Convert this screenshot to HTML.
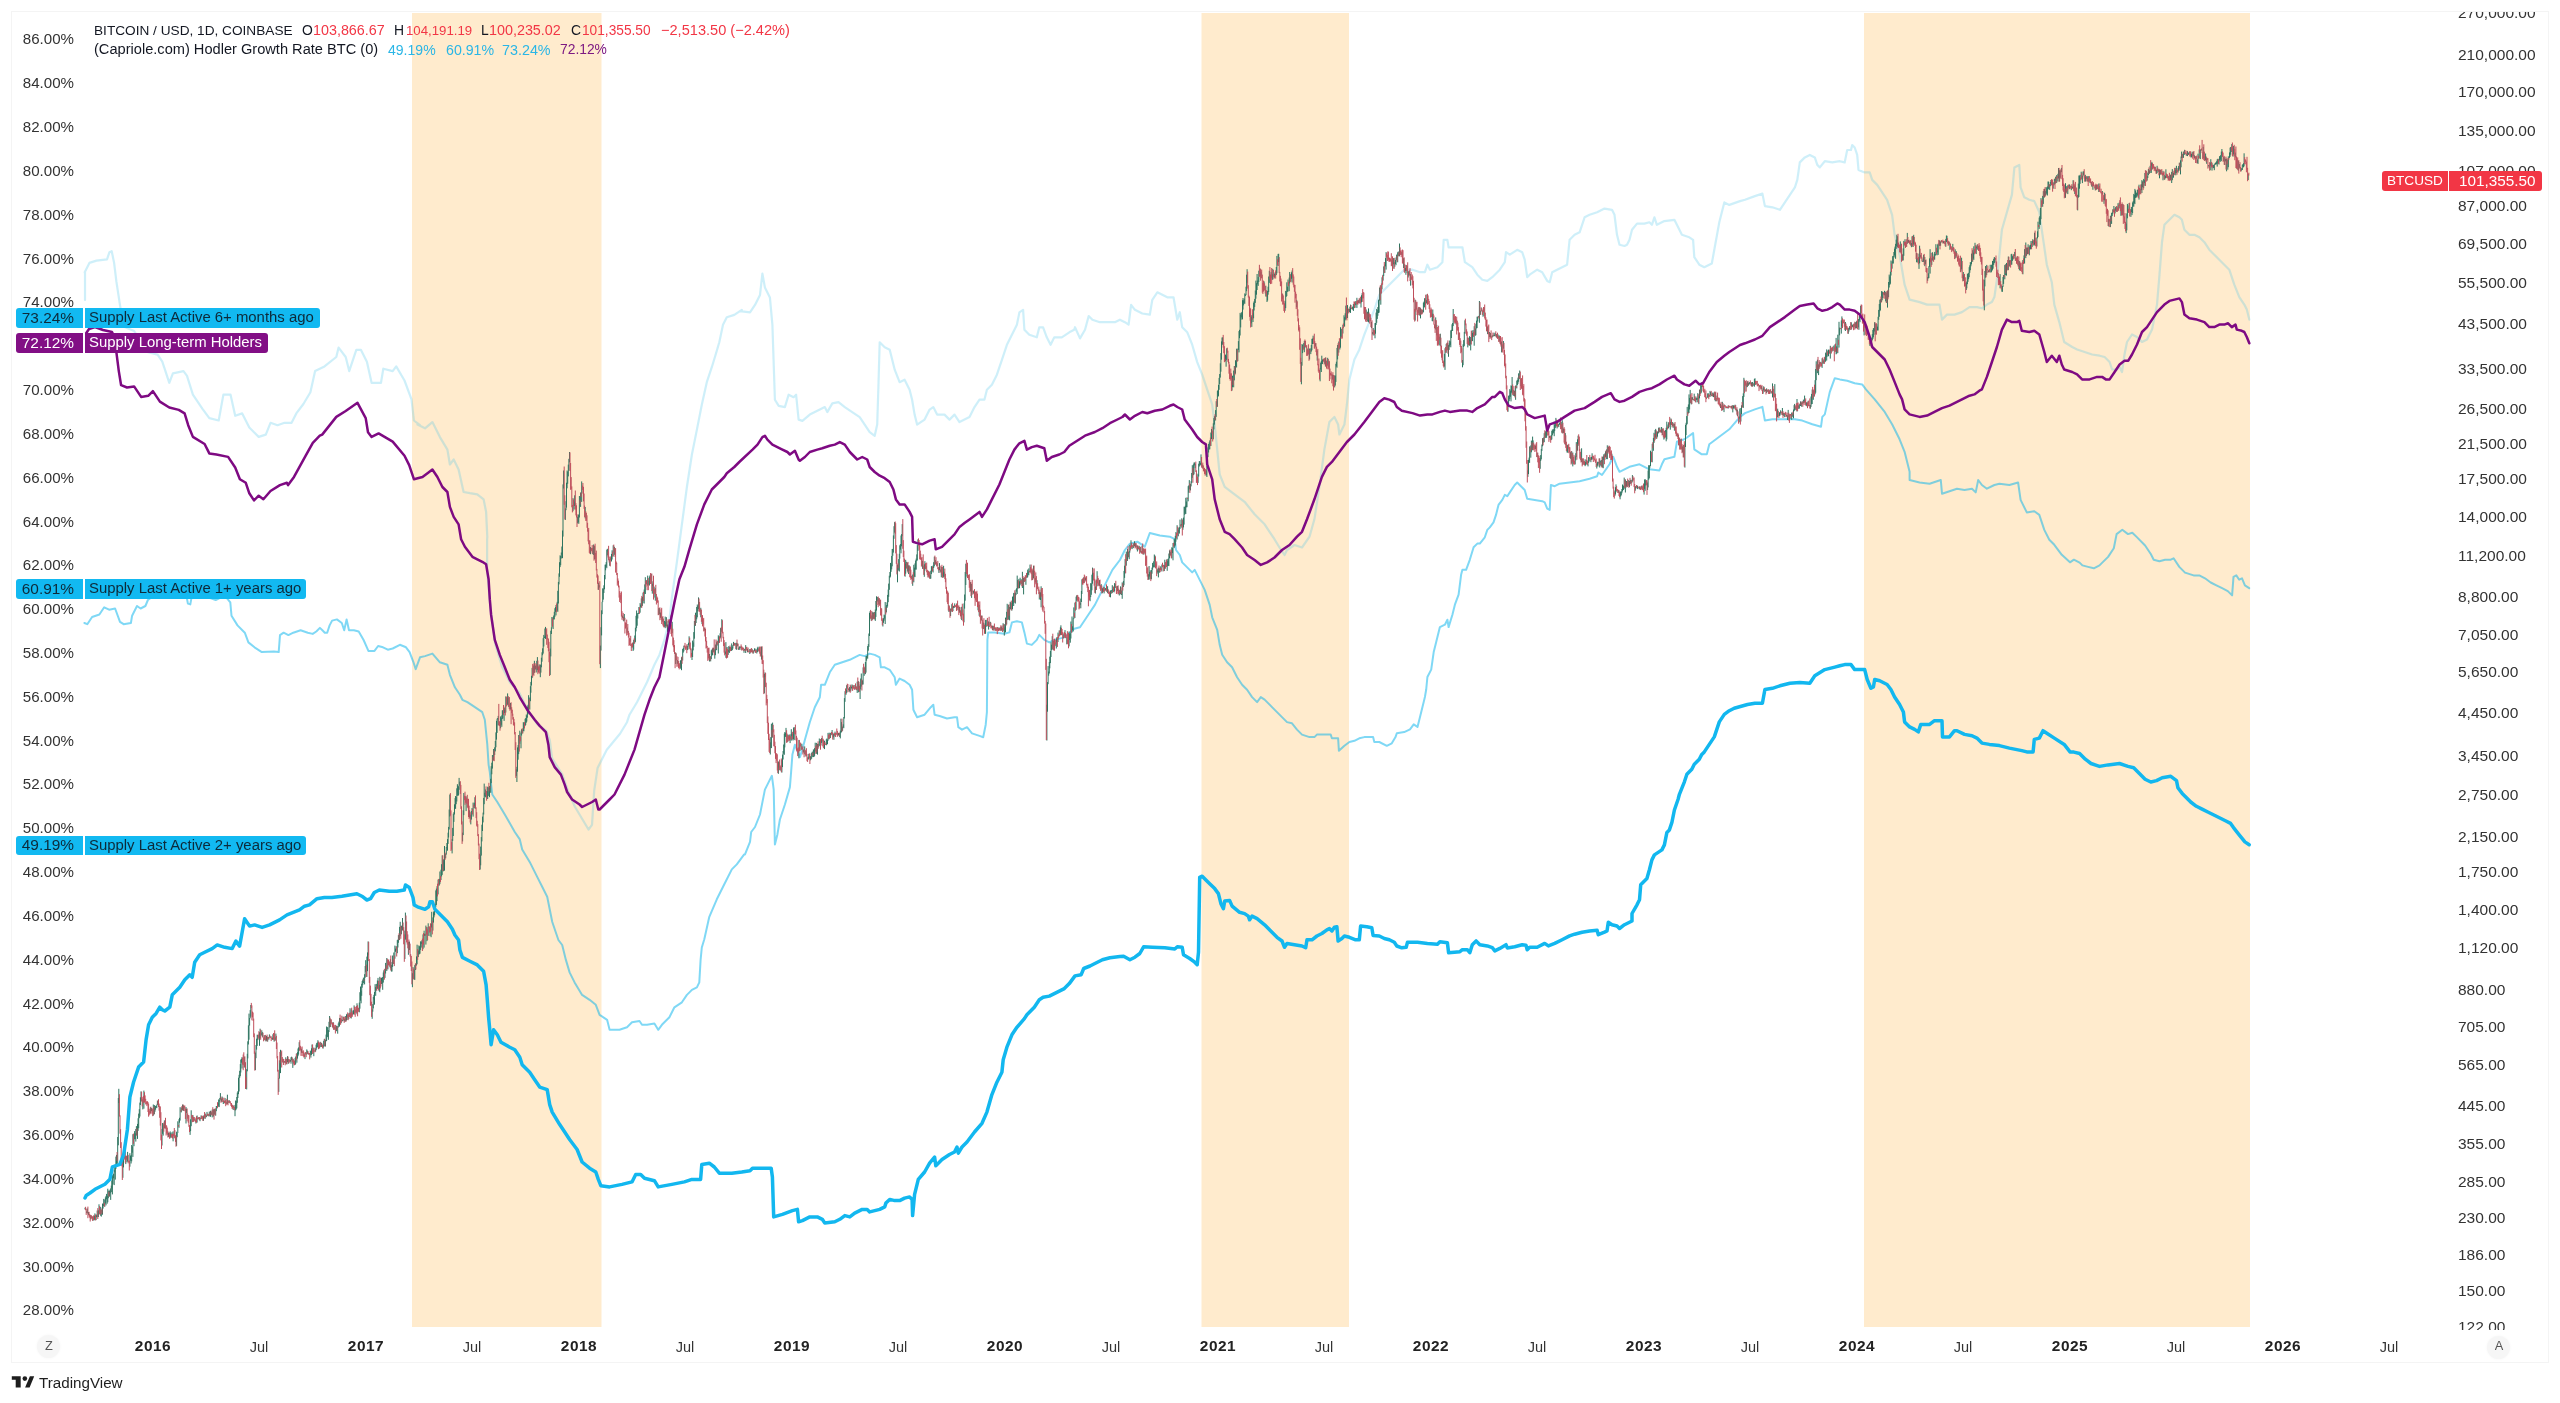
<!DOCTYPE html>
<html><head><meta charset="utf-8">
<style>
html,body{margin:0;padding:0;background:#ffffff;}
body{width:2560px;height:1403px;overflow:hidden;position:relative;font-family:"Liberation Sans", sans-serif;color:#131722;}
.abs{position:absolute;}
.t{position:absolute;line-height:1;white-space:nowrap;will-change:transform;}
</style></head><body>

<div class="abs" style="left:11px;top:11px;width:2538px;height:1352px;border:1px solid #f4f4f4;box-sizing:border-box;"></div>
<svg class="abs" style="left:0;top:0" width="2560" height="1403" viewBox="0 0 2560 1403">
<rect x="412" y="13" width="189.5" height="1314" fill="#ffebcd"/>
<rect x="1201.5" y="13" width="147.5" height="1314" fill="#ffebcd"/>
<rect x="1864" y="13" width="386" height="1314" fill="#ffebcd"/>
<g fill="none" stroke-linejoin="round" stroke-linecap="round">
<polyline points="85.0,300.0 85.0,272.0 84.7,272.3 89.4,262.9 96.5,260.6 107.0,259.4 109.4,252.3 111.7,251.2 114.1,262.9 116.4,281.7 120.0,305.2 123.5,326.4 134.1,331.1 148.2,352.3 157.6,354.6 162.3,361.7 169.3,382.8 172.9,373.4 183.5,371.1 187.0,375.8 192.9,394.6 202.3,408.7 209.3,418.1 218.7,420.5 223.4,394.6 230.5,394.6 235.2,415.8 242.2,413.4 249.3,427.5 258.7,436.9 265.8,434.6 270.5,422.8 277.5,425.2 284.6,422.8 291.6,422.8 296.3,413.4 303.4,404.0 310.4,392.2 315.1,371.1 324.5,366.4 336.3,357.0 338.6,347.6 345.7,357.0 349.2,371.1 356.3,349.9 361.0,349.9 366.9,361.7 371.6,382.8 381.0,382.8 383.3,368.7 392.7,371.1 396.2,366.4 404.5,380.5 411.5,399.3 413.9,420.5 420.0,425.2 417.5,424.6 425.0,428.3 432.4,422.1 439.9,437.1 447.4,449.6 449.9,464.5 453.7,459.5 458.6,469.5 463.6,492.0 469.9,493.2 477.3,494.4 483.6,499.4 486.1,511.9 487.3,536.9 487.1,540.0 487.1,569.6 490.5,608.4 495.1,643.7 501.9,666.5 509.9,682.5 519.0,692.3 528.1,710.5 537.2,724.2 546.4,731.0 549.8,740.1 552.1,758.4 562.3,774.3 568.0,790.7 574.9,806.7 588.5,829.5 592.0,824.9 594.2,790.7 597.6,767.9 606.8,749.7 620.0,733.8 627.0,722.2 629.5,714.7 637.0,702.2 647.0,682.3 654.4,664.8 659.4,654.9 664.4,639.9 669.4,619.9 671.9,597.5 676.9,561.8 681.9,524.4 686.9,487.0 691.9,454.5 696.9,429.6 701.8,404.7 706.8,382.2 711.8,367.2 715.6,354.8 719.3,342.3 723.0,324.8 726.8,317.3 734.3,314.9 741.8,309.9 740.0,311.1 750.0,312.4 755.0,304.9 760.0,294.9 762.4,273.7 764.9,287.4 769.9,297.4 772.4,324.8 774.9,399.7 778.7,405.9 784.9,407.1 788.6,394.7 793.6,397.2 796.1,394.7 798.6,419.6 802.4,420.9 809.8,414.6 819.8,409.6 824.8,407.1 827.3,412.1 832.3,403.4 838.5,402.2 844.8,407.1 852.2,412.1 859.7,417.1 864.7,424.6 869.7,432.1 874.7,435.8 877.2,424.6 878.4,387.2 879.7,342.3 884.7,347.3 889.7,349.8 894.7,369.7 899.6,382.2 904.6,379.7 909.6,389.7 912.1,399.7 914.6,414.6 917.1,424.6 924.6,419.6 929.6,409.6 933.3,407.1 937.1,414.6 944.5,414.6 949.5,419.6 954.5,414.6 959.5,422.1 964.5,419.6 969.5,417.1 974.5,407.1 979.5,399.7 984.4,399.7 986.9,389.7 991.9,384.7 996.9,374.7 1001.9,359.8 1006.9,344.8 1011.9,334.8 1016.9,324.8 1019.4,312.4 1023.1,309.9 1024.4,329.8 1029.3,334.8 1036.8,337.3 1039.3,327.3 1043.1,327.3 1046.8,337.3 1050.6,344.8 1054.3,337.3 1061.8,337.3 1069.3,332.3 1074.2,329.8 1075.0,327.2 1080.0,338.4 1085.0,329.7 1088.7,316.0 1092.4,319.7 1099.9,322.2 1107.4,322.2 1114.9,322.2 1119.9,319.7 1124.9,322.2 1128.6,324.7 1131.1,304.8 1134.9,309.8 1142.3,313.5 1149.8,314.7 1152.3,299.8 1157.3,292.3 1162.3,294.8 1167.3,297.3 1173.5,297.3 1177.3,319.7 1179.8,312.2 1182.2,327.2 1187.2,332.2 1192.2,344.7 1197.2,362.1 1202.2,374.6 1207.2,389.6 1212.2,404.5 1214.7,424.5 1217.2,449.4 1219.7,474.4 1224.7,486.9 1234.6,494.3 1244.6,501.8 1254.6,514.3 1264.6,524.3 1274.5,539.2 1279.5,547.5 1284.5,555.0 1287.0,550.0 1294.5,545.0 1302.0,547.5 1309.5,536.7 1314.4,519.3 1319.4,486.9 1324.4,449.4 1329.4,422.0 1334.4,417.0 1338.1,424.5 1339.4,434.5 1344.4,424.5 1346.9,404.5 1349.4,379.6 1354.4,359.6 1359.3,349.7 1364.3,334.7 1369.3,322.2 1374.3,309.8 1379.3,294.8 1384.3,289.8 1389.3,284.8 1396.8,277.3 1404.2,269.8 1412.5,269.7 1420.0,272.2 1424.9,272.2 1427.4,264.7 1429.9,269.7 1437.4,267.2 1442.4,262.2 1443.7,239.8 1447.4,239.8 1448.6,247.3 1457.4,247.3 1462.4,247.3 1464.9,262.2 1472.3,267.2 1477.3,274.7 1482.3,279.7 1487.3,280.9 1492.3,277.2 1499.8,269.7 1504.8,262.2 1506.0,252.2 1509.8,254.7 1517.2,249.8 1522.2,252.2 1524.7,259.7 1527.2,277.2 1529.7,274.7 1537.2,269.7 1542.2,272.2 1547.2,280.9 1549.7,282.2 1552.2,272.2 1557.1,269.7 1567.1,264.7 1569.6,239.8 1574.6,234.8 1579.6,232.3 1584.6,217.3 1589.6,214.8 1597.1,212.3 1604.5,208.6 1612.0,209.8 1614.5,214.8 1617.0,234.8 1619.5,244.8 1624.5,246.0 1627.0,244.8 1629.5,239.8 1632.0,229.8 1637.0,223.6 1644.4,223.6 1649.4,222.3 1651.9,224.8 1654.4,217.3 1656.9,224.8 1664.4,221.1 1674.4,219.8 1676.9,224.8 1681.9,234.8 1689.3,237.3 1693.1,239.8 1694.3,257.2 1699.3,264.7 1704.3,267.2 1711.8,263.5 1714.3,249.8 1719.3,222.3 1724.3,202.4 1729.3,204.9 1740.0,201.1 1745.0,199.8 1754.9,196.1 1762.4,193.6 1764.9,206.1 1772.4,207.3 1779.9,209.8 1784.9,202.3 1789.9,194.9 1794.9,187.4 1797.3,179.9 1799.8,162.4 1804.8,157.4 1809.8,154.9 1814.8,157.4 1817.3,164.9 1819.8,167.4 1824.8,161.2 1832.3,162.4 1839.8,161.2 1844.7,162.4 1847.2,150.0 1851.0,150.0 1852.2,145.0 1854.7,147.5 1857.2,154.9 1858.5,169.9 1864.7,172.4 1869.7,172.4 1872.2,179.9 1877.2,184.9 1882.2,192.4 1887.1,199.8 1892.1,214.8 1894.6,234.8 1899.6,254.7 1902.1,269.7 1904.6,284.7 1909.6,299.6 1919.6,302.1 1927.1,304.6 1934.5,304.6 1939.5,304.6 1942.0,319.6 1947.0,314.6 1954.5,314.6 1962.0,312.1 1969.5,307.1 1976.9,307.1 1981.9,308.3 1986.9,304.6 1991.9,302.1 1994.4,297.1 1996.9,279.7 1999.4,254.7 2001.9,229.8 2006.9,212.3 2011.9,194.9 2014.4,167.4 2019.3,164.9 2020.6,187.4 2024.3,197.3 2029.3,199.8 2034.3,201.1 2039.3,212.3 2041.8,229.8 2044.3,247.2 2046.8,264.7 2051.8,282.2 2054.3,304.6 2059.3,322.1 2064.2,342.0 2072.2,347.0 2077.1,349.5 2084.6,352.0 2092.1,354.5 2099.6,355.7 2104.6,357.0 2109.6,362.0 2112.1,369.5 2117.1,369.5 2119.6,367.0 2122.0,372.0 2124.5,354.5 2127.0,342.0 2132.0,334.5 2137.0,337.0 2142.0,342.0 2147.0,339.5 2152.0,329.6 2157.0,304.6 2159.5,274.7 2162.0,242.2 2164.4,224.8 2169.4,219.8 2174.4,214.8 2179.4,217.3 2181.9,219.8 2184.4,229.8 2189.4,234.8 2194.4,234.8 2199.4,237.3 2204.4,242.2 2209.3,249.7 2214.3,254.7 2221.8,262.2 2229.3,269.7 2234.3,284.7 2239.3,297.1 2244.3,304.6 2246.8,309.6 2249.3,319.6" stroke="#3cbfe6" stroke-opacity="0.25" stroke-width="2.2"/>
<polyline points="84.4,623.0 87.3,624.2 92.1,617.0 99.4,614.5 104.2,607.3 109.1,609.7 115.1,608.5 120.0,621.8 123.6,624.2 130.9,623.0 132.1,615.7 137.0,606.0 140.6,608.5 145.4,606.0 147.9,600.0 152.7,596.4 186.6,596.8 187.9,603.6 190.3,604.4 191.5,597.6 201.2,596.4 210.9,598.3 215.7,600.0 220.6,597.6 225.4,596.4 230.3,602.4 231.5,615.7 237.5,625.4 244.8,632.7 248.4,642.4 254.5,647.3 261.8,652.1 273.9,651.6 278.7,652.1 280.0,635.1 283.6,632.7 288.4,635.1 293.3,632.7 300.6,630.3 307.8,632.7 312.7,633.9 316.3,631.5 319.9,627.9 322.4,630.3 324.8,632.7 327.2,632.7 329.6,625.4 332.1,620.6 336.9,619.4 341.8,623.0 344.2,630.3 346.6,619.4 349.0,630.3 353.9,630.3 358.7,631.5 363.6,640.0 368.4,650.9 374.5,650.9 378.1,646.0 383.0,647.3 387.8,649.7 392.7,648.5 399.9,644.8 406.0,647.3 409.6,652.1 413.3,661.8 415.7,669.1 420.0,657.3 425.0,656.1 432.4,653.6 439.9,662.3 447.4,664.8 449.9,674.8 454.9,687.3 459.9,694.8 462.4,699.8 467.4,702.2 474.9,707.2 482.3,712.2 484.8,719.7 487.3,744.7 488.6,764.6 489.8,772.1 491.1,784.6 492.3,794.5 497.3,802.0 504.8,814.5 514.8,832.0 519.8,839.4 522.2,849.4 529.7,861.9 537.2,876.9 542.2,886.8 547.2,896.8 549.7,909.3 552.2,921.8 558.4,940.0 562.2,945.0 565.9,959.9 569.6,972.4 574.6,982.4 582.1,994.9 589.6,999.8 595.8,1004.8 599.6,1014.8 607.1,1019.8 609.6,1029.8 619.5,1029.8 627.0,1027.3 632.0,1022.3 639.5,1021.0 642.0,1024.8 647.0,1024.8 654.4,1023.5 658.2,1029.8 661.9,1024.8 669.4,1017.3 674.4,1007.3 681.9,1002.3 686.9,994.9 691.9,989.9 696.9,987.4 699.3,982.4 700.6,959.9 701.8,947.5 704.3,939.2 709.3,916.8 716.8,899.3 724.3,884.3 731.8,869.4 736.8,864.4 744.2,854.4 745.0,854.4 750.0,841.9 751.2,832.0 755.0,827.0 760.0,814.5 764.9,789.6 769.9,779.6 771.9,775.8 773.7,789.6 774.9,844.4 777.4,834.4 779.9,819.5 784.9,804.5 789.9,787.1 791.1,772.1 792.4,754.6 794.9,744.7 799.9,757.1 802.4,749.6 804.9,739.7 809.8,722.2 814.8,707.2 819.8,697.3 821.1,684.8 824.8,684.8 829.8,672.3 834.8,664.8 842.3,662.3 849.8,659.8 854.7,657.3 859.7,654.9 864.7,656.1 869.7,653.6 874.7,654.9 879.7,657.3 880.9,667.3 884.7,667.3 889.7,669.8 894.7,677.3 895.9,684.8 899.6,678.6 904.6,681.0 909.6,684.8 912.1,689.8 913.4,709.7 914.6,712.2 917.1,717.2 924.6,714.7 930.8,707.2 933.3,704.7 934.6,714.7 939.6,716.0 947.0,718.5 954.5,717.2 957.0,717.2 958.3,727.2 962.0,729.7 967.0,727.2 972.0,733.4 979.5,735.9 983.2,737.2 985.7,724.7 986.9,712.2 987.4,639.9 988.2,632.4 994.4,632.4 1004.4,633.7 1009.4,632.4 1011.9,622.4 1016.9,621.2 1021.9,622.4 1024.4,632.4 1026.9,643.6 1031.8,644.9 1036.8,639.9 1039.3,634.9 1044.3,639.9 1049.3,642.4 1054.3,639.9 1064.3,637.4 1074.2,628.7 1080.0,627.3 1085.0,619.8 1090.0,612.3 1094.9,604.9 1102.4,589.9 1107.4,579.9 1112.4,569.9 1119.9,560.0 1124.9,550.0 1129.9,543.7 1137.3,541.7 1144.8,546.7 1149.8,533.0 1159.8,535.5 1169.8,536.7 1174.8,539.2 1176.0,550.0 1179.8,555.0 1182.2,562.4 1187.2,567.4 1192.2,572.4 1194.7,569.9 1199.7,579.9 1204.7,589.9 1209.7,604.9 1212.2,617.3 1217.2,629.8 1219.7,644.8 1222.2,654.7 1227.1,662.2 1232.1,667.2 1237.1,677.2 1242.1,684.7 1247.1,689.7 1252.1,697.1 1257.1,702.1 1260.8,697.1 1264.6,699.6 1269.6,704.6 1274.5,709.6 1279.5,714.6 1287.0,722.1 1292.0,723.3 1297.0,729.6 1302.0,734.6 1309.5,737.1 1314.4,737.1 1316.9,734.6 1324.4,734.6 1330.7,734.6 1331.9,738.3 1338.1,738.3 1338.9,750.8 1344.4,745.8 1349.4,742.0 1354.4,740.8 1359.3,738.3 1364.3,737.1 1373.1,737.1 1374.3,742.0 1379.3,742.0 1386.8,745.8 1391.8,743.3 1395.5,737.1 1396.8,733.3 1404.2,732.1 1410.0,729.4 1413.7,724.4 1417.5,726.9 1420.0,716.9 1423.7,702.0 1424.9,697.0 1426.2,689.5 1427.4,677.0 1431.2,669.6 1433.7,652.1 1436.2,642.1 1439.9,627.1 1444.9,624.7 1447.4,619.7 1448.6,627.1 1452.4,614.7 1454.9,604.7 1458.6,594.7 1461.1,574.8 1462.4,569.8 1466.1,569.8 1469.8,559.8 1473.6,547.3 1477.3,543.6 1479.8,543.6 1484.8,537.3 1487.3,529.9 1489.8,527.4 1493.5,522.4 1496.0,514.9 1498.5,504.9 1502.3,499.9 1504.8,494.9 1507.3,496.2 1509.8,492.4 1514.7,485.0 1517.2,482.5 1522.2,487.5 1524.7,490.0 1527.2,498.7 1534.7,499.9 1542.2,501.2 1544.7,502.4 1547.2,508.7 1549.7,509.9 1550.9,485.0 1554.7,486.2 1559.6,483.7 1569.6,482.5 1579.6,481.2 1589.6,478.7 1597.1,476.2 1598.3,472.5 1602.0,475.0 1609.5,464.3 1613.3,456.8 1617.0,466.8 1619.5,471.8 1629.5,466.8 1639.5,464.3 1649.4,469.3 1659.4,470.5 1661.9,464.3 1664.4,459.3 1674.4,456.8 1676.9,441.8 1684.4,439.3 1693.1,433.1 1694.3,449.3 1701.8,454.3 1706.8,454.3 1709.3,444.3 1719.3,436.8 1729.3,429.3 1740.0,416.9 1745.0,413.1 1754.9,409.4 1762.4,406.9 1764.9,420.6 1772.4,419.3 1779.9,419.3 1787.4,419.3 1794.9,419.3 1802.3,420.6 1812.3,424.3 1821.0,426.8 1822.3,416.9 1824.8,414.4 1829.8,391.9 1834.8,378.2 1839.8,379.4 1847.2,380.7 1854.7,383.2 1862.2,384.4 1865.9,389.4 1874.7,399.4 1884.7,411.9 1892.1,424.3 1899.6,439.3 1904.6,451.8 1909.6,471.7 1909.6,480.0 1919.6,482.5 1929.6,483.7 1937.0,481.2 1940.8,480.0 1942.0,493.7 1949.5,491.2 1957.0,488.7 1964.5,490.0 1972.0,488.7 1975.7,492.4 1978.2,480.0 1981.9,485.0 1986.9,488.7 1994.4,485.0 1999.4,483.7 2009.4,485.0 2018.1,482.5 2020.6,499.9 2026.8,512.4 2034.3,511.2 2039.3,514.9 2044.3,529.9 2049.3,539.8 2054.3,544.8 2061.8,554.8 2070.0,562.3 2073.9,559.7 2079.6,562.6 2082.4,565.4 2088.1,566.9 2093.8,568.3 2099.5,565.4 2108.1,556.9 2113.8,548.3 2116.6,534.1 2122.3,529.8 2128.0,534.1 2132.3,532.7 2136.6,536.9 2145.1,545.5 2150.8,554.0 2153.7,559.7 2159.4,561.2 2165.1,559.7 2170.8,559.7 2173.6,558.3 2179.3,566.9 2185.0,572.6 2193.6,575.4 2199.3,575.4 2205.0,578.3 2210.7,582.5 2216.4,585.4 2222.1,588.2 2227.8,591.1 2232.1,595.4 2233.5,576.8 2236.3,575.4 2239.2,579.7 2242.0,578.3 2244.9,585.4 2249.2,588.2" stroke="#00b2eb" stroke-opacity="0.5" stroke-width="2"/>
<path d="M85.0 1207.7V1209.4M86.7 1211.3V1213.0M87.3 1208.5V1213.4M88.5 1212.0V1214.9M90.8 1215.1V1219.4M93.2 1216.3V1220.6M94.3 1215.7V1220.3M94.9 1213.4V1219.2M96.1 1215.9V1220.1M96.7 1214.5V1217.2M97.2 1210.5V1217.1M98.4 1210.3V1217.0M99.0 1204.3V1214.4M100.7 1206.9V1215.8M101.3 1209.7V1216.6M102.5 1203.6V1214.7M103.1 1203.8V1208.6M103.7 1198.9V1206.0M104.8 1199.5V1206.8M105.4 1197.3V1203.6M106.0 1195.9V1205.4M106.6 1193.9V1199.2M107.2 1195.9V1203.7M107.8 1188.7V1202.2M108.3 1190.6V1198.2M109.5 1190.7V1196.6M110.1 1189.6V1193.0M110.7 1188.4V1199.9M111.3 1185.6V1192.2M111.8 1180.4V1188.6M112.4 1175.4V1194.4M113.0 1174.7V1184.4M113.6 1173.7V1178.3M114.2 1169.9V1185.1M114.8 1166.5V1172.4M115.3 1164.0V1179.6M115.9 1156.6V1168.9M116.5 1154.9V1164.1M117.7 1137.0V1163.9M118.3 1098.0V1145.3M118.8 1088.8V1103.1M122.9 1159.9V1177.8M123.5 1148.3V1167.4M124.7 1150.6V1158.7M125.8 1155.8V1164.1M127.0 1155.6V1162.3M127.6 1151.9V1161.4M129.9 1153.2V1166.7M130.5 1155.8V1160.7M131.1 1155.1V1163.5M131.7 1145.0V1161.3M132.3 1146.4V1152.7M132.9 1134.2V1156.9M134.0 1138.9V1146.2M134.6 1131.1V1139.2M135.2 1133.3V1139.1M135.8 1129.0V1141.6M136.4 1126.1V1135.2M137.5 1123.9V1138.9M138.1 1118.3V1130.9M138.7 1113.6V1128.2M139.3 1109.2V1118.2M139.9 1102.6V1116.5M140.4 1097.3V1105.0M141.0 1091.4V1101.4M142.8 1099.3V1109.4M143.9 1090.6V1108.7M150.4 1107.3V1113.1M151.5 1108.1V1111.2M153.3 1104.5V1115.7M154.4 1105.1V1114.2M155.0 1107.6V1111.7M155.6 1105.9V1109.7M156.2 1105.8V1107.7M156.8 1104.6V1108.1M157.4 1100.6V1105.1M162.0 1128.9V1145.5M162.6 1123.0V1133.8M163.2 1124.3V1135.6M164.4 1120.4V1128.4M168.5 1132.6V1136.8M170.2 1131.4V1138.2M170.8 1133.0V1136.9M172.0 1132.2V1137.9M173.1 1131.3V1141.3M176.6 1131.7V1145.9M177.2 1132.9V1137.2M177.8 1121.3V1133.0M179.0 1119.2V1127.8M179.5 1117.8V1122.7M180.1 1107.2V1120.6M181.3 1107.5V1112.4M182.5 1104.6V1110.3M183.6 1105.3V1110.8M186.0 1107.0V1123.5M186.6 1108.8V1113.1M190.1 1128.8V1134.9M190.6 1119.3V1131.1M191.2 1110.3V1126.2M193.0 1115.2V1122.0M194.1 1118.8V1120.5M195.9 1118.3V1123.5M197.1 1115.5V1122.6M198.8 1117.2V1119.3M200.0 1117.5V1121.2M201.1 1115.4V1119.0M203.5 1116.2V1120.8M204.1 1115.0V1116.6M205.2 1113.5V1118.8M206.4 1115.4V1117.1M207.0 1111.9V1116.0M208.1 1113.8V1116.2M209.3 1111.5V1116.4M210.5 1110.8V1116.8M211.7 1112.3V1114.7M212.2 1109.6V1117.4M213.4 1109.3V1116.6M214.6 1109.1V1114.6M215.7 1109.2V1115.7M216.3 1106.0V1111.2M216.9 1106.0V1108.6M218.1 1102.9V1107.0M218.7 1099.4V1105.8M219.2 1100.0V1107.1M219.8 1097.9V1101.5M220.4 1093.1V1099.7M221.6 1098.5V1101.8M222.2 1096.6V1100.1M223.3 1100.4V1104.0M225.1 1098.1V1102.7M226.2 1101.8V1103.9M227.4 1094.7V1104.1M229.2 1100.1V1103.1M233.2 1105.5V1110.0M235.0 1104.9V1116.2M235.6 1100.5V1110.4M236.2 1101.1V1109.5M236.8 1097.0V1108.3M237.3 1092.6V1102.8M237.9 1091.2V1098.0M238.5 1077.7V1094.2M239.1 1074.8V1091.5M239.7 1070.8V1077.9M240.3 1064.1V1076.2M240.8 1059.6V1072.5M241.4 1058.8V1062.7M242.0 1057.1V1068.5M244.3 1056.7V1067.6M246.7 1069.2V1089.4M247.3 1053.8V1071.3M247.8 1041.3V1058.4M248.4 1025.3V1044.5M249.0 1013.6V1039.7M249.6 1018.0V1025.6M250.2 1010.1V1018.3M250.8 1005.0V1016.7M255.4 1052.6V1070.1M256.0 1045.0V1058.2M256.6 1038.7V1049.6M257.2 1034.7V1045.9M257.8 1035.0V1040.1M259.5 1032.2V1045.8M260.1 1028.7V1038.3M261.3 1033.4V1035.6M261.8 1030.3V1034.3M262.4 1032.2V1036.9M264.2 1035.1V1040.2M265.9 1038.6V1041.4M266.5 1035.9V1040.7M267.7 1036.9V1041.6M268.9 1036.9V1039.7M269.4 1034.4V1037.5M270.6 1036.6V1037.6M272.4 1037.7V1039.6M272.9 1034.3V1039.9M274.1 1033.2V1041.7M275.3 1037.5V1040.6M275.9 1033.6V1038.3M278.8 1077.9V1091.9M279.4 1060.3V1078.6M280.5 1049.8V1073.1M281.1 1052.1V1055.8M282.9 1058.7V1062.7M284.6 1061.1V1062.6M285.8 1057.3V1063.4M286.9 1058.9V1064.4M287.5 1056.2V1062.0M288.7 1059.0V1063.7M290.5 1059.8V1061.6M291.0 1057.3V1063.7M291.6 1056.7V1060.2M292.8 1058.6V1067.9M295.1 1057.9V1065.0M295.7 1056.5V1064.1M296.9 1053.2V1062.7M297.5 1052.2V1058.6M298.0 1048.5V1056.2M298.6 1047.4V1054.6M299.2 1042.2V1050.3M301.5 1048.8V1052.8M305.0 1053.0V1059.1M306.8 1049.4V1054.7M307.4 1050.7V1053.8M309.1 1053.0V1054.5M310.3 1050.6V1055.4M310.9 1051.3V1057.6M311.5 1048.3V1054.9M312.0 1044.5V1051.7M313.8 1047.6V1056.2M315.6 1048.5V1051.7M316.1 1044.7V1050.2M316.7 1043.1V1048.4M317.3 1042.5V1047.3M317.9 1040.2V1047.0M319.1 1045.1V1048.4M320.2 1041.8V1047.1M321.4 1042.9V1047.0M323.1 1045.6V1048.6M323.7 1040.8V1046.7M324.3 1038.9V1046.3M325.5 1040.0V1046.5M326.1 1034.6V1041.2M326.6 1026.5V1041.1M327.2 1027.0V1036.7M327.8 1027.5V1037.2M328.4 1030.1V1039.8M329.0 1021.8V1032.0M329.6 1016.0V1027.4M330.7 1019.3V1027.0M333.1 1022.0V1028.3M334.2 1026.5V1029.8M336.0 1027.3V1030.8M336.6 1025.7V1031.2M337.7 1026.2V1033.7M338.3 1023.4V1027.5M338.9 1021.6V1024.7M339.5 1018.0V1026.6M341.2 1019.2V1023.2M342.4 1019.8V1021.0M343.0 1016.5V1021.1M344.7 1018.8V1021.5M345.3 1016.0V1021.4M346.5 1014.4V1020.6M347.1 1013.8V1019.9M348.8 1013.3V1018.9M350.0 1008.2V1016.7M351.2 1009.4V1018.5M352.9 1010.5V1015.0M353.5 1010.3V1014.1M354.1 1005.4V1013.5M355.8 1009.5V1012.6M357.0 1003.3V1014.3M359.3 1002.6V1012.3M359.9 992.2V1008.7M360.5 986.5V1000.7M361.1 990.7V1003.3M361.7 983.8V995.8M362.2 981.0V987.7M362.8 979.5V985.1M363.4 977.6V983.2M364.6 974.2V984.4M365.2 966.0V977.7M365.7 960.2V971.9M366.9 956.6V976.9M367.5 952.4V971.2M368.1 941.4V955.4M372.2 1009.3V1018.8M372.8 1004.1V1011.7M373.3 996.9V1008.4M373.9 994.8V999.5M374.5 992.0V1004.7M375.1 984.2V992.5M375.7 987.1V995.8M376.3 983.9V990.4M377.4 980.5V988.7M378.0 977.9V988.9M379.2 984.8V991.2M379.8 976.8V992.2M381.5 977.8V984.0M382.1 977.7V983.4M382.7 977.0V989.8M383.3 972.5V982.6M383.8 970.3V977.8M385.0 971.3V977.9M385.6 962.9V973.5M386.8 958.0V971.0M387.9 960.1V969.4M389.1 962.2V965.3M390.3 959.2V968.3M391.4 965.1V971.5M392.0 962.0V971.5M392.6 955.5V966.9M393.8 952.5V964.0M394.9 945.6V958.7M395.5 948.6V951.8M396.1 946.2V950.2M397.3 940.1V953.2M397.9 939.6V947.5M398.4 935.1V942.8M399.6 926.9V940.0M400.2 921.8V936.1M401.4 925.9V934.3M401.9 925.6V928.0M402.5 918.0V930.3M404.9 930.6V959.0M405.4 912.6V939.6M408.4 941.8V954.8M409.5 941.6V950.0M412.4 973.2V987.2M413.0 967.0V978.5M414.2 969.8V979.5M414.8 965.1V979.9M415.4 963.7V970.0M416.5 956.4V965.6M417.1 944.7V964.3M418.3 950.5V957.1M418.9 945.4V954.8M419.4 946.4V953.9M420.0 946.1V953.7M420.6 941.3V949.9M421.2 942.0V947.6M421.8 940.4V944.0M423.0 934.4V949.2M424.1 930.7V947.6M424.7 933.8V935.8M425.9 925.6V944.6M427.0 927.2V941.1M428.2 923.3V935.9M430.0 928.1V936.2M431.1 924.0V937.2M431.7 911.8V927.5M432.9 917.4V930.6M433.5 912.2V922.6M434.0 911.0V917.4M434.6 909.0V915.3M435.2 904.2V909.7M435.8 890.4V906.8M436.4 888.6V904.9M437.0 886.2V901.1M438.1 879.6V894.4M439.3 878.8V885.5M439.9 871.5V884.1M441.0 869.7V880.0M441.6 864.2V876.4M442.2 855.4V874.9M443.4 859.3V871.3M444.0 861.5V864.3M444.5 846.0V870.7M445.7 853.7V858.3M446.3 847.1V854.6M446.9 843.0V847.9M447.5 839.1V850.7M448.1 832.7V843.9M448.6 826.9V837.5M449.2 809.5V829.5M449.8 794.5V816.5M452.1 839.1V853.4M452.7 827.9V840.9M453.3 813.7V836.0M453.9 812.2V821.9M454.5 804.3V814.5M455.1 798.1V808.1M455.6 796.0V808.9M456.2 797.0V804.2M456.8 788.3V801.5M457.4 784.2V795.6M458.0 785.7V796.0M458.6 786.4V795.1M459.1 777.9V789.8M459.7 781.7V785.6M462.6 832.6V841.4M463.2 810.3V835.1M463.8 793.0V815.1M466.1 796.3V811.1M469.6 810.3V817.7M470.8 814.7V824.4M471.4 811.0V819.6M472.0 808.1V811.4M473.1 802.6V816.6M474.3 802.7V808.4M474.9 797.2V806.0M480.2 855.1V869.5M480.7 846.6V865.3M481.3 837.1V855.6M481.9 824.7V841.4M482.5 816.6V831.0M483.1 812.6V822.4M483.7 797.9V814.5M484.2 783.6V804.2M484.8 792.8V796.4M485.4 789.4V797.3M487.2 791.2V797.4M487.7 786.7V799.0M488.3 787.3V795.9M489.5 786.1V797.2M490.7 778.8V792.8M491.2 766.2V783.1M491.8 762.7V774.3M492.4 755.0V768.6M493.6 749.0V760.3M494.7 747.3V755.0M495.3 741.0V751.4M495.9 732.4V747.3M496.5 720.8V739.6M497.1 718.7V732.9M497.7 718.0V719.5M498.2 715.9V725.3M500.6 716.4V728.3M501.2 718.1V724.8M501.8 715.4V726.8M502.3 710.4V718.9M502.9 710.2V718.5M504.1 709.8V720.9M504.7 707.5V713.0M505.8 696.4V712.5M507.0 697.7V704.4M507.6 693.4V704.8M508.8 697.5V707.1M510.5 703.0V709.5M516.3 769.4V775.9M516.9 766.8V782.0M517.5 747.4V771.7M518.1 745.1V759.7M518.7 735.0V754.1M519.8 730.7V743.8M521.0 732.5V748.3M521.6 729.2V735.5M522.8 729.5V733.4M523.3 722.1V730.9M523.9 723.1V731.3M525.1 718.8V726.1M525.7 718.1V725.0M526.3 714.5V722.7M526.8 715.9V721.5M527.4 706.6V717.7M528.0 704.8V714.4M528.6 695.2V711.3M529.8 697.5V709.6M530.4 686.2V701.2M530.9 681.9V692.7M531.5 675.8V685.5M532.1 667.9V678.1M533.3 665.5V674.8M534.4 660.8V672.8M535.6 665.6V669.5M536.8 660.8V672.5M537.4 657.1V670.1M539.1 664.4V670.4M540.3 664.5V677.2M540.9 665.2V672.6M541.4 657.7V667.3M542.0 652.3V661.7M542.6 648.3V655.2M543.2 638.2V653.6M543.8 634.9V646.5M544.4 636.7V638.0M544.9 628.5V637.1M545.5 626.9V638.9M550.2 648.6V675.0M550.8 630.7V656.4M551.4 627.3V634.0M551.9 617.0V627.7M553.1 617.1V629.0M553.7 615.5V619.4M554.3 611.8V619.4M554.9 608.2V616.8M555.5 607.1V611.8M556.0 605.0V615.4M557.2 601.8V610.6M557.8 590.8V611.8M558.4 581.9V603.5M559.0 573.4V584.4M559.5 562.2V576.8M560.1 555.3V567.1M560.7 556.0V565.2M561.3 552.5V558.5M561.9 546.5V554.7M562.5 530.5V558.2M563.0 484.4V536.6M563.6 470.5V488.5M565.4 508.4V519.9M566.0 501.2V510.2M566.5 482.7V507.6M567.1 470.5V488.3M567.7 471.6V483.8M568.3 464.6V476.4M568.9 458.8V470.6M569.5 452.0V462.3M573.0 498.1V511.2M574.1 501.6V509.5M574.7 495.3V506.0M577.6 516.8V523.4M578.2 514.6V522.3M578.8 514.6V523.8M579.4 496.0V517.5M580.6 492.5V506.9M581.7 481.4V501.9M585.2 507.0V518.4M590.5 547.1V554.2M592.8 548.1V554.1M593.4 544.5V555.0M594.6 546.1V559.4M598.6 582.8V589.8M599.2 585.2V587.5M600.4 645.6V668.1M601.0 627.2V650.6M601.6 610.3V635.4M602.1 601.8V614.2M602.7 588.4V602.1M603.3 588.4V599.6M603.9 585.3V593.0M604.5 575.0V589.3M605.1 564.7V579.3M605.6 564.6V570.3M606.2 562.1V566.9M606.8 549.7V568.2M607.4 548.8V555.4M609.7 559.1V565.8M610.9 557.7V560.1M611.5 553.9V561.5M612.1 550.3V559.5M613.2 545.3V556.5M614.4 546.8V554.8M622.6 615.6V618.1M623.7 616.9V621.3M624.3 614.0V620.6M626.1 623.0V627.5M627.2 627.5V632.8M630.2 638.6V641.7M631.9 643.7V647.7M633.1 642.5V651.0M633.7 639.7V649.7M634.8 635.5V643.3M635.4 627.7V641.9M636.0 615.8V631.4M636.6 610.5V628.1M637.2 614.3V625.7M637.8 613.0V618.5M638.3 612.9V613.9M638.9 607.0V613.7M640.1 603.1V612.7M640.7 604.6V607.4M641.3 598.4V607.5M642.4 596.9V605.9M643.0 592.6V603.2M644.2 589.5V603.5M644.8 584.4V593.7M645.3 577.2V594.0M647.7 575.6V585.6M648.8 580.7V584.8M649.4 576.5V585.5M650.0 575.3V579.7M651.2 573.9V583.7M652.3 583.7V593.7M652.9 581.3V586.0M654.1 586.6V597.6M655.3 588.1V600.7M658.8 608.2V615.0M659.3 608.1V614.2M660.5 612.5V617.8M662.3 616.9V621.7M664.6 621.0V626.9M665.2 616.6V628.2M665.8 621.8V626.3M666.4 617.2V626.3M667.5 624.5V631.9M668.1 621.0V628.7M672.2 621.8V633.2M675.7 652.6V664.0M677.4 660.0V663.8M680.4 660.7V668.7M680.9 660.0V666.6M681.5 657.2V670.2M682.7 649.0V660.5M683.3 647.9V652.6M683.9 645.7V651.3M687.4 646.1V650.1M688.0 644.1V649.5M688.5 642.7V645.1M689.1 636.3V646.7M692.0 649.2V660.0M692.6 640.6V657.0M693.2 642.4V650.4M693.8 632.1V646.8M694.4 621.0V638.7M695.5 612.7V625.8M696.1 615.1V623.0M696.7 607.0V619.3M697.3 604.5V617.3M697.9 606.1V611.1M698.5 597.4V609.1M700.8 607.8V617.3M702.0 617.9V624.1M704.3 627.8V630.7M709.5 654.0V661.5M710.7 656.3V661.4M711.3 650.3V659.1M711.9 649.5V655.9M712.5 648.4V655.0M713.6 647.9V651.9M714.8 649.3V658.7M715.4 644.5V655.2M716.6 642.2V650.2M717.1 640.7V645.6M718.3 635.3V653.5M718.9 636.5V642.7M720.1 633.3V638.5M720.6 628.1V637.5M721.8 619.2V631.8M725.3 651.5V654.2M725.9 642.1V657.8M727.1 647.0V657.6M728.2 649.9V654.9M728.8 646.1V652.1M729.4 646.9V652.9M731.1 647.9V650.8M731.7 643.4V650.9M732.3 646.5V650.0M732.9 645.0V648.6M733.5 641.9V645.7M735.2 642.9V645.4M736.4 642.8V649.8M737.6 643.4V646.3M738.7 647.7V649.9M739.3 646.7V648.6M739.9 646.3V650.0M740.5 646.7V647.7M742.8 648.0V649.4M744.0 649.9V652.8M744.6 648.8V650.4M745.7 645.1V653.0M747.5 648.8V652.1M749.8 649.0V654.0M751.0 648.7V652.4M752.2 649.2V651.9M753.3 650.7V653.6M754.5 648.4V651.0M755.1 648.6V652.5M756.8 649.3V653.5M757.4 647.6V652.1M758.0 646.7V649.6M759.2 647.5V651.7M760.9 651.7V655.6M761.5 646.6V659.6M764.4 673.9V693.3M765.0 672.4V677.0M770.3 742.3V754.5M770.8 737.1V747.8M771.4 723.7V748.1M772.6 722.6V737.6M778.4 761.5V773.8M779.0 762.3V767.4M780.2 766.5V770.7M781.9 760.0V772.6M782.5 754.6V767.1M783.1 751.0V759.5M783.7 744.5V753.7M784.3 733.7V754.8M784.8 732.1V747.4M785.4 732.7V736.8M786.0 727.9V737.0M787.8 735.0V741.9M788.9 734.6V739.1M790.1 734.3V743.1M791.3 729.2V740.6M791.8 733.5V736.2M793.0 734.0V740.5M793.6 727.6V739.0M794.2 727.1V740.1M798.9 739.9V758.3M800.0 744.3V751.1M801.8 743.7V749.7M803.5 749.5V752.5M804.7 746.4V754.1M805.9 751.0V756.5M808.2 756.7V759.3M808.8 753.8V759.4M810.5 756.2V760.3M811.1 757.5V759.4M811.7 752.7V758.6M812.3 751.6V756.9M813.4 749.4V757.1M814.0 749.8V757.0M814.6 748.1V755.9M815.2 742.7V751.5M816.4 742.9V753.8M817.5 743.8V754.6M818.7 743.7V747.4M819.3 738.5V745.9M819.9 741.0V743.1M821.0 739.2V745.5M821.6 738.0V742.9M824.5 740.7V749.1M826.3 739.3V745.3M826.9 738.5V744.7M827.5 739.6V744.0M828.0 732.9V740.8M829.2 732.7V739.2M830.4 732.8V738.0M831.0 733.9V735.3M832.1 730.0V734.5M833.3 733.5V737.3M833.9 734.2V739.8M835.0 731.6V736.4M836.2 733.3V734.7M838.0 733.2V735.6M838.5 733.0V735.1M839.7 733.1V737.0M840.3 730.6V738.4M840.9 718.7V733.1M841.5 722.1V732.1M842.6 726.6V730.8M843.2 724.3V727.5M843.8 717.0V728.2M844.4 698.1V718.5M845.0 691.2V701.8M846.1 690.0V694.7M846.7 685.2V692.9M849.1 688.2V691.7M849.6 687.0V691.4M850.8 685.4V691.4M851.4 686.8V688.2M852.0 684.4V689.4M853.1 685.3V688.0M854.9 685.0V689.0M856.1 686.6V690.0M857.2 681.7V692.9M858.4 681.2V692.3M860.1 684.4V699.0M860.7 678.5V689.3M861.3 673.5V686.6M862.5 680.4V684.6M863.1 667.4V684.5M864.2 667.7V675.8M865.4 662.0V674.2M866.0 656.1V672.6M866.6 656.1V660.7M867.1 655.4V658.1M867.7 646.1V658.7M868.3 644.1V650.7M868.9 633.5V646.9M869.5 612.8V636.0M870.1 611.2V618.4M871.2 615.4V620.7M872.4 612.2V619.7M873.6 612.4V618.8M874.7 612.0V619.4M875.3 609.5V620.9M875.9 601.0V616.9M876.5 596.3V610.6M877.7 597.0V601.5M878.8 598.2V604.5M880.0 600.0V604.2M882.9 620.0V626.5M883.5 618.2V622.8M884.1 614.6V620.7M884.7 615.3V618.6M885.2 602.0V624.0M886.4 605.1V612.4M887.0 602.4V608.0M887.6 594.9V606.5M888.2 589.6V602.2M888.7 583.6V596.8M889.3 575.7V589.8M889.9 572.0V577.8M890.5 562.9V576.7M891.1 564.5V571.8M891.7 555.9V569.4M892.2 549.0V566.3M892.8 548.9V555.8M893.4 535.4V552.6M894.0 526.2V538.8M894.6 522.1V532.6M897.5 564.6V582.3M898.7 559.1V570.6M899.3 553.8V571.5M899.8 545.3V558.6M900.4 544.0V549.6M901.0 535.5V553.3M901.6 534.1V546.3M902.2 524.1V536.2M905.1 563.6V576.7M905.7 559.8V573.7M906.3 561.8V568.0M907.4 562.5V571.5M908.6 565.3V574.1M909.2 565.4V570.7M912.7 574.5V585.8M913.8 564.8V582.3M914.4 567.6V576.7M915.0 563.4V577.1M915.6 560.5V569.6M916.2 558.6V569.6M916.8 554.4V561.1M917.3 545.2V560.3M917.9 539.4V551.0M922.6 560.8V568.9M924.3 564.3V576.8M924.9 561.2V570.6M926.1 566.2V568.8M929.0 571.3V577.6M930.2 575.2V578.9M930.8 570.7V578.6M931.4 566.2V574.1M931.9 566.3V571.3M933.1 565.5V572.5M933.7 562.2V568.0M934.3 556.7V566.3M935.4 560.1V564.4M937.2 563.3V565.9M938.9 567.1V572.9M939.5 563.1V570.2M940.7 569.5V571.8M941.3 566.8V577.3M943.0 572.7V578.0M943.6 565.8V576.8M944.2 571.7V576.7M948.9 605.0V611.9M950.6 608.6V616.0M951.8 604.2V611.7M953.0 606.7V611.1M953.5 605.9V607.9M954.7 603.4V607.8M957.0 603.1V610.1M959.4 606.9V612.6M961.7 606.8V620.1M964.0 603.4V622.3M964.6 594.5V608.6M965.2 572.0V600.7M965.8 563.7V585.0M967.0 564.6V576.6M970.5 582.1V591.2M971.6 584.0V597.9M973.4 591.0V593.7M974.0 590.3V592.4M978.0 602.2V610.3M979.2 604.8V615.8M981.6 615.6V620.5M983.3 622.6V629.1M985.1 623.3V633.9M985.6 619.9V633.7M986.8 619.8V626.8M988.6 621.4V629.6M990.3 621.8V625.8M992.6 625.7V630.1M993.8 626.0V629.9M995.0 627.3V630.8M996.1 628.8V629.8M997.9 627.0V630.5M999.1 627.9V630.6M1000.2 627.2V630.4M1001.4 626.6V630.7M1003.1 623.2V631.2M1004.3 624.2V635.6M1004.9 627.5V632.6M1005.5 617.6V632.2M1006.7 611.8V624.5M1007.2 603.8V619.7M1008.4 604.9V619.6M1009.6 607.0V620.3M1010.2 601.8V609.2M1010.7 602.5V609.3M1011.9 603.1V610.6M1012.5 596.8V609.1M1013.1 596.3V603.7M1013.7 593.1V606.0M1014.2 592.8V602.6M1015.4 592.7V603.5M1016.0 589.5V595.1M1016.6 588.3V591.7M1017.2 575.6V594.0M1017.7 580.1V588.6M1018.9 578.9V588.4M1019.5 581.3V588.1M1020.1 577.7V585.3M1021.2 579.2V584.0M1022.4 571.8V588.0M1023.6 577.8V594.4M1024.2 578.0V581.8M1025.9 575.2V584.8M1027.1 572.8V577.8M1027.7 569.6V577.2M1028.2 571.5V574.7M1028.8 568.4V575.3M1030.0 564.6V572.0M1032.3 570.3V580.0M1033.5 565.7V578.3M1035.3 577.9V582.4M1037.0 580.2V588.6M1039.3 591.7V599.5M1040.5 592.3V600.0M1041.1 586.3V607.3M1046.9 704.7V740.5M1047.5 682.1V711.7M1048.1 666.1V684.2M1048.7 671.5V675.7M1049.3 662.0V673.5M1049.8 656.6V668.3M1050.4 651.0V663.1M1051.0 642.3V657.0M1051.6 644.7V650.2M1052.2 636.2V649.4M1053.3 641.0V650.0M1055.1 642.4V646.2M1056.3 638.6V648.5M1056.8 637.3V642.2M1058.0 632.6V642.0M1059.2 630.4V636.4M1060.4 627.3V635.0M1060.9 625.3V633.7M1063.3 634.4V638.4M1063.9 633.4V634.6M1065.0 630.1V636.1M1066.8 636.9V644.3M1067.9 639.9V643.5M1069.1 631.5V646.4M1069.7 633.8V640.0M1070.3 633.2V642.7M1070.9 621.5V638.5M1072.0 616.5V632.5M1072.6 626.3V630.1M1073.2 618.3V631.5M1073.8 607.4V619.1M1074.9 602.6V618.0M1076.1 596.7V609.8M1076.7 595.3V600.7M1080.2 602.8V604.9M1080.8 598.6V608.3M1081.4 590.9V602.0M1081.9 579.3V594.0M1083.7 577.3V583.0M1085.5 577.7V580.6M1090.1 595.6V601.2M1090.7 583.2V597.1M1091.3 583.4V594.8M1091.9 574.7V590.3M1092.5 567.6V583.7M1095.4 586.5V593.5M1096.0 580.4V590.0M1097.1 571.2V586.3M1099.5 580.1V585.8M1101.2 584.1V589.8M1102.4 588.3V593.2M1103.0 588.4V591.1M1104.1 586.9V593.4M1105.3 588.1V590.4M1105.9 587.9V590.6M1107.0 589.3V591.9M1107.6 586.2V593.0M1110.0 591.5V597.1M1110.5 590.4V597.3M1111.7 590.0V593.6M1112.3 585.2V592.9M1112.9 589.1V590.6M1114.1 588.5V592.4M1114.6 583.1V591.1M1115.2 583.8V588.0M1117.6 586.0V591.0M1119.3 589.9V595.5M1120.5 586.4V594.3M1121.6 590.5V595.0M1122.2 582.4V598.8M1123.4 580.9V587.0M1124.0 570.9V585.3M1124.6 565.7V577.9M1125.1 559.1V573.3M1126.3 551.6V565.7M1127.5 548.9V560.9M1128.6 551.9V557.0M1129.2 551.0V559.2M1129.8 544.8V552.6M1131.0 540.3V548.7M1132.1 546.3V549.1M1133.3 543.4V548.1M1134.5 541.3V546.3M1135.6 543.4V547.4M1137.4 545.5V551.5M1139.2 545.8V550.3M1140.3 547.0V552.6M1142.1 546.0V553.0M1143.2 548.6V554.7M1145.0 550.2V554.4M1148.5 574.2V579.5M1149.1 566.0V579.7M1149.7 571.9V576.6M1150.2 570.3V578.9M1151.4 570.0V579.3M1152.0 567.6V573.7M1152.6 562.9V569.7M1153.2 565.1V566.7M1153.7 561.3V567.5M1154.3 554.5V567.3M1154.9 555.5V560.9M1157.2 570.4V573.6M1157.8 568.7V572.0M1158.4 567.6V577.4M1159.6 568.3V572.7M1160.7 566.3V569.9M1161.9 564.5V571.5M1163.1 564.9V566.4M1164.3 565.3V571.0M1164.8 559.7V568.4M1166.0 561.8V567.1M1167.2 559.1V570.8M1167.8 561.1V566.0M1168.3 558.5V565.8M1168.9 553.5V566.1M1169.5 550.4V558.4M1170.7 551.7V555.3M1171.8 547.3V558.4M1172.4 547.8V553.1M1173.0 543.0V560.3M1174.2 538.7V548.1M1174.8 539.8V546.7M1175.3 535.8V545.5M1175.9 532.1V541.7M1177.1 525.2V539.5M1178.3 529.7V536.3M1178.8 527.7V532.6M1179.4 527.2V533.6M1180.0 519.6V529.0M1181.2 523.9V527.7M1181.8 518.3V525.5M1182.9 520.4V529.8M1183.5 517.6V527.4M1184.1 506.7V524.6M1184.7 507.0V514.8M1185.3 505.7V513.6M1185.8 497.8V514.0M1186.4 501.5V507.3M1187.0 497.4V507.2M1188.2 486.2V501.3M1188.8 485.4V492.7M1189.3 480.1V489.3M1190.5 484.0V490.4M1191.1 481.2V486.4M1191.7 473.0V483.2M1192.3 465.2V477.9M1193.4 464.3V475.2M1194.0 462.5V474.4M1194.6 462.5V465.4M1195.2 463.6V468.1M1196.9 473.5V482.5M1198.1 474.3V482.9M1198.7 463.7V476.5M1199.3 461.1V466.5M1199.9 461.2V465.4M1200.4 462.9V464.7M1201.0 454.4V465.4M1202.2 464.5V468.0M1203.9 468.9V470.8M1206.3 470.3V475.5M1206.9 466.1V477.0M1207.4 455.5V468.4M1208.0 447.4V457.2M1208.6 444.0V452.5M1209.2 442.4V449.5M1209.8 440.4V449.3M1210.9 432.5V446.0M1211.5 429.0V439.0M1213.3 423.3V439.3M1213.9 418.1V429.4M1214.4 416.2V424.6M1215.6 410.1V420.5M1216.2 401.2V416.9M1217.4 390.9V406.8M1218.0 389.9V396.8M1218.5 384.8V395.9M1219.1 377.9V389.8M1219.7 374.0V384.0M1220.3 363.3V377.6M1220.9 353.1V371.7M1221.5 341.4V359.7M1222.0 337.5V343.9M1222.6 337.4V344.8M1225.5 354.6V361.2M1226.1 355.7V366.7M1226.7 348.3V359.9M1232.0 382.1V390.6M1232.5 375.7V387.2M1233.7 370.6V387.3M1234.3 366.0V380.4M1235.5 360.3V373.7M1236.0 360.7V366.3M1236.6 348.7V367.5M1237.8 348.6V361.1M1238.4 341.1V349.9M1239.0 331.1V352.4M1239.5 329.8V338.2M1240.1 312.9V335.5M1240.7 314.5V327.4M1241.3 312.7V317.4M1241.9 311.9V319.7M1242.5 300.2V319.2M1243.0 298.0V309.6M1243.6 300.3V305.4M1244.2 298.7V303.4M1244.8 293.4V303.8M1245.4 294.3V296.1M1246.0 286.7V295.1M1246.6 274.7V291.2M1247.1 269.2V282.8M1251.2 316.8V323.3M1251.8 315.2V326.9M1253.0 313.4V322.0M1253.6 302.7V318.3M1254.1 301.3V310.5M1254.7 298.9V306.9M1255.3 290.5V302.9M1255.9 280.6V298.7M1256.5 283.2V294.7M1257.1 274.0V290.0M1257.6 280.6V284.3M1258.2 277.1V285.9M1258.8 270.7V282.0M1260.0 268.4V276.2M1261.1 271.7V278.2M1264.1 281.4V286.3M1265.8 285.7V296.5M1267.0 291.7V302.0M1267.6 290.9V300.6M1268.1 286.7V294.7M1268.7 276.5V292.0M1269.3 270.8V282.9M1271.1 272.1V277.9M1272.2 274.3V279.8M1272.8 268.9V279.6M1274.6 273.6V277.7M1275.2 272.1V276.3M1276.3 267.0V275.1M1276.9 255.9V273.3M1278.1 253.9V266.0M1278.7 253.8V262.1M1282.2 293.6V298.9M1285.1 301.2V310.8M1285.7 290.9V308.1M1286.2 291.2V296.9M1286.8 282.3V296.0M1287.4 286.7V291.8M1288.0 279.5V291.5M1289.2 277.6V291.2M1289.7 272.0V283.4M1290.9 274.1V281.6M1291.5 272.3V278.8M1292.1 270.5V282.5M1296.7 299.9V307.3M1301.4 362.0V384.3M1302.0 344.0V365.7M1302.6 344.8V353.1M1303.8 343.1V348.7M1304.3 340.9V352.2M1306.1 345.3V348.1M1307.8 348.5V354.8M1309.6 348.5V359.5M1310.8 348.4V354.1M1311.3 345.0V351.6M1311.9 338.8V350.3M1312.5 338.6V344.0M1313.1 335.7V339.6M1315.4 343.2V346.6M1317.2 350.4V360.6M1320.1 368.3V381.3M1320.7 362.6V369.5M1321.3 361.1V372.0M1321.8 355.7V364.0M1322.4 359.5V364.1M1323.0 359.6V361.4M1324.8 358.5V363.7M1325.4 357.5V366.5M1327.7 357.8V365.7M1328.9 360.7V367.6M1332.4 374.7V379.6M1334.7 375.4V387.4M1335.3 375.6V385.6M1335.9 363.8V381.9M1336.4 361.7V366.6M1337.0 347.9V367.7M1337.6 344.9V359.4M1338.8 341.5V352.6M1339.9 342.3V349.5M1340.5 327.2V347.7M1341.7 328.9V337.5M1342.9 324.7V333.5M1344.0 315.3V326.3M1344.6 317.2V326.6M1345.2 313.3V320.4M1345.8 305.6V319.3M1347.5 305.1V318.0M1348.1 308.9V311.4M1349.3 309.0V312.2M1349.9 306.6V312.1M1350.5 304.6V312.9M1352.2 307.0V309.0M1352.8 306.5V309.8M1353.4 304.0V310.9M1355.1 303.3V307.8M1355.7 301.2V305.1M1356.9 297.8V307.9M1358.6 300.2V303.1M1359.8 298.6V303.5M1361.0 299.7V307.5M1361.5 295.2V302.3M1362.1 293.2V298.3M1365.0 309.8V317.9M1366.2 309.5V320.1M1367.4 311.7V321.5M1368.5 308.4V322.3M1371.5 321.9V328.1M1372.6 332.1V334.3M1373.2 328.0V335.5M1375.0 323.1V338.3M1375.5 323.0V333.7M1376.1 312.6V324.9M1376.7 308.9V322.8M1377.3 310.1V318.9M1377.9 307.0V315.8M1378.5 300.1V313.0M1379.1 299.2V312.7M1379.6 287.5V300.6M1380.8 285.2V304.7M1382.0 277.3V289.4M1383.1 274.7V280.6M1383.7 266.4V276.1M1384.9 264.6V272.9M1385.5 258.1V266.4M1386.1 252.1V269.6M1391.9 260.0V265.7M1393.1 263.2V268.7M1393.6 258.1V264.3M1394.8 262.1V266.8M1395.4 259.9V264.0M1396.0 257.5V265.2M1396.6 254.6V259.8M1397.7 252.3V262.3M1398.3 251.5V256.2M1399.5 243.5V256.3M1401.8 252.1V254.9M1403.6 258.2V268.0M1405.3 267.9V271.1M1405.9 264.9V274.8M1407.1 265.7V273.0M1408.2 272.1V277.5M1408.8 271.0V275.5M1410.6 274.0V285.7M1415.2 299.7V320.6M1418.2 307.7V312.9M1419.3 307.3V315.6M1420.5 308.2V318.4M1421.7 309.7V314.1M1422.8 310.0V313.0M1423.4 302.6V312.1M1424.0 301.6V307.5M1424.6 298.2V307.2M1425.2 298.4V304.8M1426.3 300.2V303.1M1426.9 294.4V303.7M1432.2 313.7V321.1M1432.8 309.5V321.3M1435.7 317.4V329.5M1436.8 324.9V335.4M1439.2 336.7V345.3M1440.3 333.7V346.3M1444.4 353.8V366.6M1445.0 348.3V369.9M1446.2 343.9V352.8M1447.3 342.5V349.9M1448.5 345.1V356.8M1449.1 343.3V349.9M1449.7 340.5V346.7M1450.3 341.4V344.9M1450.8 330.4V347.3M1451.4 329.8V338.0M1452.0 324.3V330.5M1452.6 323.0V331.0M1453.2 309.0V326.1M1456.1 319.3V324.6M1459.0 333.1V338.7M1462.5 360.0V367.3M1463.1 344.3V365.2M1463.7 340.1V347.0M1464.3 331.9V345.9M1464.9 320.3V333.6M1467.8 337.4V347.4M1469.5 336.2V345.7M1470.1 339.7V344.3M1470.7 337.0V350.4M1471.9 330.9V341.3M1472.4 333.0V341.0M1473.0 330.0V336.4M1474.2 326.2V345.7M1475.4 328.5V335.7M1475.9 324.1V335.2M1476.5 320.6V328.4M1477.1 316.7V328.1M1477.7 316.8V321.5M1478.3 316.1V317.3M1479.4 301.0V322.8M1480.6 310.7V314.8M1481.2 307.4V311.5M1483.0 309.5V316.7M1484.1 307.4V316.1M1487.6 326.5V334.1M1489.4 332.0V337.2M1490.5 332.9V337.4M1492.3 335.2V337.4M1493.5 335.3V336.3M1494.0 332.7V335.7M1494.6 334.7V336.2M1495.2 332.9V335.7M1496.4 334.1V337.5M1498.1 334.5V338.0M1499.3 335.5V341.7M1501.6 341.5V352.4M1503.4 341.0V348.7M1508.0 401.3V411.8M1508.6 395.9V406.2M1509.2 395.1V401.1M1509.8 389.1V399.1M1510.4 390.6V396.8M1511.0 385.4V401.4M1511.6 386.0V392.5M1512.1 377.0V393.4M1513.3 389.9V395.9M1514.5 390.7V396.3M1515.6 385.5V399.8M1516.8 380.6V388.4M1517.4 379.8V385.1M1518.0 377.6V383.8M1518.6 373.3V381.8M1519.7 370.5V379.1M1520.9 378.8V386.2M1522.1 382.3V389.2M1527.9 470.3V476.9M1528.5 459.8V474.1M1529.1 457.6V462.2M1529.6 446.4V462.9M1530.8 445.4V457.7M1531.4 440.6V452.3M1532.6 436.6V450.3M1533.1 440.4V448.2M1535.5 445.5V449.1M1537.2 452.7V457.2M1540.2 458.3V468.8M1540.7 455.1V461.0M1541.3 448.9V459.4M1541.9 444.5V450.9M1542.5 438.2V446.3M1543.7 437.5V442.7M1544.2 433.2V442.0M1545.4 431.5V437.9M1546.0 430.9V435.5M1546.6 423.1V437.8M1549.5 435.9V437.9M1551.2 435.0V440.1M1551.8 430.8V439.4M1552.4 429.4V435.3M1553.0 431.1V433.7M1553.6 429.2V432.8M1554.2 421.5V436.2M1554.7 424.7V431.1M1555.3 423.1V427.9M1555.9 417.9V426.3M1557.1 422.3V428.4M1558.2 424.1V426.2M1558.8 424.2V427.1M1559.4 422.9V424.6M1560.0 421.4V425.0M1561.2 421.8V428.9M1562.3 420.2V433.3M1563.5 428.5V432.9M1565.3 433.1V444.9M1567.0 444.7V452.5M1567.6 445.2V452.6M1570.5 452.2V458.7M1571.7 451.1V463.6M1572.8 452.5V466.4M1575.2 456.3V464.4M1575.8 453.2V460.4M1576.3 442.1V457.1M1577.5 439.3V450.7M1578.1 435.7V445.9M1581.6 448.3V462.0M1582.8 458.8V464.9M1583.9 461.2V463.3M1585.1 459.3V466.2M1585.7 462.0V465.2M1586.3 459.8V464.4M1588.0 462.1V466.4M1588.6 457.1V462.9M1589.2 457.5V461.5M1590.9 457.1V462.2M1591.5 456.9V459.7M1592.1 453.3V459.7M1596.8 463.5V468.5M1597.4 462.1V465.5M1597.9 461.6V466.6M1598.5 462.3V463.4M1599.7 458.4V467.5M1600.3 460.6V465.6M1601.4 460.0V466.7M1602.6 457.0V467.4M1603.2 456.4V468.2M1603.8 454.3V459.9M1604.9 453.4V459.9M1605.5 451.3V456.9M1606.7 449.4V459.1M1607.3 445.3V459.2M1608.4 446.7V451.8M1611.9 453.7V459.8M1614.9 490.5V496.1M1615.5 487.2V494.5M1616.0 484.4V492.2M1618.4 490.2V492.8M1620.1 491.3V499.3M1620.7 492.0V496.5M1621.3 491.3V495.4M1621.9 489.0V493.3M1622.5 484.5V491.4M1623.0 487.0V489.7M1623.6 485.6V490.1M1624.2 477.6V488.7M1625.4 479.4V492.5M1626.5 481.1V486.5M1627.1 481.5V487.1M1628.3 480.1V485.7M1629.5 480.9V487.0M1630.6 479.8V483.8M1631.8 479.8V483.2M1632.4 475.1V481.6M1635.3 486.3V490.7M1635.9 486.2V488.7M1637.0 485.9V487.6M1637.6 485.6V489.1M1639.4 486.6V489.4M1641.7 485.7V488.8M1642.9 487.0V490.0M1644.1 483.6V494.6M1644.6 479.5V488.9M1645.2 479.2V490.8M1645.8 480.5V485.5M1647.6 482.5V490.0M1648.1 470.5V487.4M1648.7 465.2V479.7M1649.3 465.7V478.4M1649.9 465.0V467.7M1650.5 450.7V466.0M1651.1 453.4V460.8M1652.2 443.8V462.3M1653.4 437.9V450.8M1654.0 432.8V443.0M1655.1 430.0V439.7M1655.7 428.9V437.6M1656.9 432.1V438.5M1657.5 431.5V436.7M1658.6 427.6V433.4M1659.8 427.4V432.3M1661.0 430.2V431.9M1661.6 427.0V432.8M1662.7 428.7V435.0M1663.9 434.3V439.6M1665.6 430.0V437.5M1666.2 427.8V441.3M1666.8 421.7V439.4M1668.0 424.5V428.8M1668.6 422.3V428.0M1670.3 421.9V429.7M1670.9 418.4V424.7M1672.7 422.0V426.1M1673.2 423.4V427.8M1674.4 423.7V430.7M1677.3 433.6V436.9M1679.1 437.6V445.8M1680.2 439.2V448.8M1682.6 446.4V452.4M1683.7 444.9V457.3M1684.9 443.6V467.6M1685.5 424.8V447.0M1686.1 422.8V435.2M1686.7 416.1V425.1M1687.2 406.9V423.9M1688.4 404.4V413.5M1689.0 394.4V413.0M1689.6 397.9V409.5M1690.2 389.9V403.3M1691.3 397.2V404.4M1692.5 397.2V399.7M1693.1 398.9V400.2M1694.2 393.7V401.1M1696.0 396.6V402.4M1696.6 398.2V399.9M1697.2 398.3V399.5M1697.8 393.1V402.1M1698.9 396.5V404.1M1699.5 389.7V398.4M1700.7 384.7V393.8M1701.3 385.9V392.7M1701.8 382.2V387.2M1707.1 396.6V397.6M1707.7 393.4V397.6M1708.3 393.3V397.5M1710.0 390.9V397.0M1710.6 392.0V395.2M1711.8 394.6V396.0M1712.3 392.6V396.4M1713.5 393.5V397.0M1714.1 392.2V397.3M1715.3 392.4V401.3M1717.0 395.6V401.3M1720.5 403.9V408.0M1722.3 401.8V410.3M1724.0 404.3V412.1M1726.9 406.8V408.2M1728.1 405.6V408.6M1729.3 406.2V407.2M1731.6 405.8V408.4M1732.8 405.2V412.4M1733.4 405.5V408.4M1733.9 405.5V408.6M1735.1 404.7V409.3M1736.3 408.8V411.4M1737.4 409.6V416.0M1739.2 417.2V422.3M1739.8 408.5V418.4M1740.9 408.0V421.5M1741.5 405.3V414.2M1742.7 396.1V407.2M1743.3 393.3V407.9M1743.9 377.8V396.9M1745.0 381.3V391.6M1746.8 383.2V387.3M1747.4 381.3V386.8M1748.5 383.1V385.6M1749.1 382.1V384.3M1749.7 382.2V384.4M1751.5 382.4V386.2M1752.6 382.0V386.5M1753.8 383.3V385.8M1754.4 378.9V386.7M1755.0 378.3V383.3M1756.1 382.8V384.7M1759.6 385.3V387.3M1761.4 386.1V389.4M1763.1 388.3V393.7M1763.7 386.3V390.4M1764.9 389.1V391.6M1765.5 389.8V391.2M1766.6 388.4V393.0M1767.8 389.9V391.9M1769.0 390.1V393.8M1770.1 389.4V393.7M1772.5 383.4V397.4M1774.8 384.1V397.5M1777.1 410.0V417.8M1777.7 408.7V417.0M1779.5 412.3V416.1M1780.1 412.4V415.5M1780.6 410.3V413.4M1782.4 408.0V415.2M1783.6 412.9V415.8M1784.7 413.2V417.2M1786.5 414.8V416.4M1787.6 415.3V420.0M1788.2 409.9V417.4M1790.0 414.0V419.0M1791.7 412.5V419.8M1792.3 413.3V416.8M1793.5 409.5V418.3M1794.1 405.2V411.2M1794.6 403.9V410.4M1795.8 406.4V409.9M1797.0 399.0V411.6M1798.7 405.3V408.8M1799.3 404.1V408.6M1800.5 401.4V406.0M1801.7 402.5V406.8M1802.2 401.4V403.9M1803.4 399.6V403.3M1804.6 395.6V402.7M1806.3 402.2V405.7M1806.9 402.7V406.3M1808.1 400.8V406.2M1809.2 405.1V406.1M1810.4 404.9V408.7M1811.0 396.5V406.9M1811.6 393.9V404.3M1812.2 389.5V404.0M1813.3 390.2V399.8M1815.1 380.2V394.3M1815.7 369.0V392.7M1816.2 361.3V380.2M1817.4 359.7V373.2M1818.6 364.3V375.1M1819.7 362.2V367.4M1820.9 361.9V364.4M1822.1 358.3V367.9M1823.2 361.4V363.9M1823.8 359.4V362.6M1825.0 358.0V362.2M1825.6 352.6V361.5M1826.2 353.7V357.2M1826.7 349.4V360.6M1827.9 350.4V356.7M1828.5 349.6V356.0M1829.1 351.2V353.3M1830.3 345.8V358.6M1832.0 347.6V351.7M1833.2 348.4V350.9M1833.8 345.6V348.7M1834.9 344.4V351.7M1836.1 337.9V354.3M1836.7 346.3V353.7M1837.8 334.7V353.1M1839.0 321.8V347.6M1839.6 327.6V335.3M1841.3 320.4V333.6M1841.9 316.4V326.3M1843.1 321.5V323.3M1845.4 322.0V331.0M1848.3 328.3V333.8M1848.9 327.7V331.5M1849.5 326.2V329.6M1851.3 322.3V329.6M1852.4 324.6V327.0M1853.0 325.1V327.3M1854.2 323.4V326.8M1855.4 322.2V328.4M1856.5 321.3V328.0M1858.3 319.0V327.4M1858.9 319.4V329.8M1859.4 315.8V320.5M1860.0 315.1V322.2M1860.6 305.8V318.1M1864.1 322.1V335.4M1865.9 327.0V328.0M1869.9 339.5V345.9M1870.5 340.1V342.4M1871.7 337.6V342.2M1872.3 334.1V340.4M1872.9 329.9V338.9M1873.4 328.1V337.3M1874.0 328.4V334.8M1874.6 322.2V331.5M1875.8 323.9V334.3M1876.9 324.2V330.2M1877.5 326.6V330.4M1878.1 316.8V330.5M1878.7 309.9V319.8M1879.3 304.0V316.8M1879.9 299.7V311.2M1880.4 299.2V310.3M1881.6 291.1V302.1M1882.2 291.5V300.3M1882.8 292.1V298.0M1884.5 290.8V295.3M1885.7 291.7V301.4M1886.3 292.5V302.9M1887.5 290.7V307.6M1888.6 282.0V297.3M1889.2 274.6V287.5M1889.8 276.5V285.0M1890.4 271.7V283.8M1891.0 260.5V275.5M1892.1 261.4V268.7M1892.7 256.2V263.5M1893.3 255.9V263.5M1893.9 252.0V256.8M1894.5 248.7V255.4M1895.0 246.6V257.6M1895.6 243.8V258.8M1896.2 239.7V248.9M1896.8 234.7V246.0M1897.4 236.2V247.1M1900.3 241.4V252.3M1902.6 254.5V260.5M1903.2 248.4V260.4M1903.8 240.9V255.8M1905.0 239.2V244.8M1906.1 242.3V246.7M1907.3 232.9V243.8M1908.5 240.0V242.7M1910.2 240.6V244.9M1911.4 243.1V247.2M1912.0 236.4V244.7M1913.1 236.3V247.0M1913.7 234.8V244.5M1916.6 253.0V262.3M1917.8 258.2V262.6M1919.0 253.6V268.9M1919.6 245.7V263.3M1920.7 254.9V257.4M1922.5 260.7V261.7M1923.1 258.4V261.8M1923.6 254.8V261.8M1924.8 257.0V266.2M1925.4 260.1V264.3M1927.7 277.0V280.8M1928.3 273.3V278.4M1928.9 266.2V278.1M1929.5 258.4V266.9M1930.1 249.2V273.6M1931.8 258.2V264.9M1932.4 252.2V260.4M1934.2 253.7V259.3M1934.7 251.9V259.7M1935.3 254.1V255.6M1935.9 244.2V255.1M1937.1 250.5V255.3M1937.7 244.4V252.4M1938.2 243.6V254.9M1939.4 240.4V245.9M1940.6 241.6V245.8M1941.2 240.4V242.5M1943.5 241.2V243.3M1944.1 241.3V242.3M1945.8 238.9V246.8M1946.4 235.5V242.1M1947.0 235.8V240.7M1948.7 241.4V244.8M1949.9 242.9V249.8M1952.8 243.9V250.4M1955.2 249.3V258.4M1956.3 251.2V256.6M1961.0 264.8V271.6M1961.6 257.7V269.4M1963.3 272.0V281.0M1963.9 275.5V279.1M1965.1 282.9V286.0M1966.3 282.6V290.0M1966.8 281.5V288.3M1967.4 273.6V284.2M1968.0 274.2V281.8M1968.6 272.8V279.2M1969.2 267.2V277.2M1969.8 265.3V272.8M1970.3 262.1V270.2M1970.9 262.6V266.3M1971.5 253.6V264.3M1972.7 250.2V261.8M1973.3 252.6V258.6M1973.8 246.3V259.9M1975.0 242.8V252.9M1976.2 247.0V254.1M1976.8 245.5V248.2M1977.3 244.4V249.7M1984.3 279.8V310.3M1984.9 271.0V286.4M1985.5 266.1V277.6M1986.7 264.9V275.2M1988.4 270.5V272.1M1989.0 270.0V271.8M1990.2 264.8V272.5M1991.4 264.7V272.3M1991.9 265.3V271.0M1992.5 260.9V269.8M1993.1 261.1V268.7M1993.7 258.8V265.0M1994.3 257.0V263.2M1994.9 257.9V262.5M2000.1 274.1V288.3M2001.9 286.0V291.7M2002.4 286.1V291.8M2003.0 276.9V286.9M2003.6 275.0V283.9M2004.8 265.1V279.3M2005.4 264.3V275.2M2006.5 262.9V275.6M2007.1 264.2V269.7M2008.3 256.5V270.1M2009.4 260.3V266.3M2010.0 260.3V262.2M2011.2 254.2V264.7M2011.8 253.8V264.6M2012.4 256.4V260.9M2012.9 255.6V259.8M2014.1 254.4V258.6M2014.7 251.9V255.8M2015.9 257.8V261.0M2017.0 256.5V261.9M2018.2 260.2V266.5M2019.4 261.2V270.4M2022.9 260.0V274.3M2024.0 255.4V262.9M2024.6 249.1V263.6M2025.8 242.5V258.1M2026.4 247.9V255.8M2027.5 247.8V254.0M2028.1 244.3V253.6M2029.3 246.5V255.3M2029.9 245.2V249.6M2030.5 244.8V249.1M2031.0 241.0V249.2M2032.2 241.1V246.9M2032.8 239.2V243.3M2034.0 241.5V245.8M2034.5 232.7V244.7M2036.9 237.5V246.5M2037.5 231.3V238.3M2038.0 221.7V237.1M2039.2 217.6V228.9M2039.8 216.2V224.1M2040.4 208.0V224.9M2041.0 198.1V219.2M2042.7 195.9V206.8M2043.3 191.1V203.9M2044.5 188.9V197.5M2045.6 191.1V195.7M2046.2 187.1V194.6M2046.8 188.3V193.3M2047.4 186.5V195.5M2048.0 181.5V189.5M2048.6 181.7V188.8M2049.7 184.3V189.9M2050.3 182.0V186.2M2050.9 180.0V183.7M2052.1 181.6V185.2M2053.2 182.3V188.7M2054.4 178.7V184.6M2055.6 176.7V183.6M2056.7 175.1V182.9M2057.9 173.8V181.5M2058.5 168.0V178.5M2059.6 170.3V181.5M2060.2 170.5V177.7M2061.4 167.9V172.2M2065.5 183.2V197.8M2066.7 186.2V192.6M2067.8 185.3V194.1M2069.6 184.4V189.0M2071.3 185.8V190.2M2072.5 186.7V188.4M2073.1 180.2V188.6M2074.8 185.4V194.0M2077.7 194.8V210.4M2078.3 183.6V197.7M2078.9 175.5V197.0M2079.5 175.7V188.7M2080.1 174.8V183.9M2081.2 171.7V179.5M2082.4 175.6V183.1M2083.0 171.5V176.3M2083.6 171.4V174.9M2085.3 174.8V181.7M2085.9 176.8V181.0M2087.7 176.2V181.3M2088.8 176.1V181.9M2090.0 179.5V183.1M2091.7 182.0V186.5M2092.9 183.9V189.8M2095.3 185.0V190.4M2096.4 184.8V189.7M2098.8 183.5V192.0M2102.3 191.0V194.6M2104.0 197.6V203.8M2104.6 192.7V200.4M2108.7 218.9V226.5M2110.4 215.7V227.1M2111.6 213.0V223.9M2112.2 212.3V216.1M2112.8 209.3V214.2M2113.9 206.0V212.0M2115.1 208.2V213.4M2115.7 207.0V210.7M2116.8 206.2V211.8M2118.0 203.2V210.6M2119.2 202.6V208.5M2120.9 204.6V215.8M2122.7 204.1V215.4M2126.2 223.6V233.1M2126.8 213.4V230.3M2127.4 203.9V218.3M2127.9 205.4V211.6M2129.1 203.0V209.8M2130.9 209.1V216.9M2131.4 206.9V212.0M2132.0 209.5V215.1M2132.6 202.4V213.1M2133.2 201.1V206.4M2133.8 193.9V206.7M2134.4 194.9V203.3M2134.9 188.9V204.1M2135.5 190.4V197.9M2136.1 192.6V196.6M2136.7 192.8V197.6M2137.3 189.9V195.3M2137.9 189.5V196.5M2139.0 184.7V199.6M2140.2 188.9V193.8M2141.4 184.3V190.2M2141.9 180.1V193.0M2142.5 181.4V187.3M2143.7 178.9V188.3M2144.3 180.1V183.1M2144.9 173.0V185.8M2146.0 170.7V178.3M2147.2 175.9V180.6M2147.8 172.6V178.0M2148.4 169.0V175.1M2149.5 170.4V173.6M2150.1 165.8V173.0M2151.3 163.1V172.9M2151.9 161.9V165.7M2154.8 166.7V169.6M2156.5 169.8V173.7M2157.1 165.8V173.2M2158.3 169.3V171.9M2159.5 169.5V178.3M2160.6 169.8V174.6M2163.0 170.9V180.3M2164.7 174.9V179.8M2165.3 176.0V178.3M2165.9 169.3V178.2M2167.0 174.3V177.6M2168.8 175.9V179.9M2170.5 174.8V180.0M2171.7 171.9V183.0M2172.3 169.1V180.2M2173.5 172.9V177.7M2174.1 170.6V175.2M2175.2 169.8V173.2M2175.8 167.9V175.3M2176.4 165.8V173.1M2178.1 167.8V172.6M2178.7 166.0V170.8M2179.3 162.7V169.3M2180.5 160.3V174.4M2181.1 156.5V167.3M2181.6 151.6V158.0M2182.8 154.0V157.9M2183.4 151.5V157.8M2184.6 149.8V154.8M2186.3 153.5V155.8M2187.5 151.1V156.1M2188.6 152.7V155.0M2189.2 151.9V153.7M2191.0 153.5V157.5M2191.6 154.1V157.2M2192.1 151.7V156.1M2193.3 151.8V156.4M2194.5 155.3V158.2M2196.2 156.4V159.1M2197.4 159.3V163.1M2198.0 153.7V163.9M2199.2 149.5V158.4M2200.3 149.5V159.1M2200.9 149.5V150.5M2203.2 146.9V158.3M2205.0 156.2V160.8M2205.6 153.5V160.1M2206.7 157.5V163.8M2208.5 165.2V166.2M2209.1 165.3V167.7M2210.2 162.9V170.2M2210.8 159.2V165.7M2212.0 162.7V170.6M2213.2 165.2V168.2M2213.7 164.9V167.9M2214.3 164.4V170.2M2214.9 163.4V165.0M2215.5 162.8V164.5M2216.1 162.1V163.7M2216.7 161.2V164.4M2217.2 159.4V166.6M2217.8 158.8V163.6M2219.0 158.8V164.5M2219.6 156.2V160.4M2220.2 156.1V161.9M2220.7 155.1V159.6M2221.3 151.6V161.2M2221.9 149.0V155.3M2223.7 156.8V161.2M2224.8 157.3V165.0M2225.4 158.9V161.4M2226.6 158.8V171.3M2227.8 159.9V169.7M2228.3 156.3V167.2M2229.5 152.4V157.9M2230.1 147.7V156.8M2230.7 147.0V154.7M2231.8 144.1V152.0M2233.0 147.6V156.7M2233.6 146.0V154.4M2235.3 152.6V157.4M2237.1 159.3V169.2M2238.3 160.8V170.7M2239.4 164.1V167.8M2241.2 168.7V171.3M2241.8 168.1V169.7M2242.3 164.8V170.0M2242.9 164.1V166.7M2243.5 163.2V167.4M2244.1 153.3V166.4M2248.2 173.8V180.0" stroke="#2d7460" stroke-width="1.0" stroke-linecap="butt"/>
<path d="M85.6 1206.8V1210.2M86.2 1208.7V1214.9M87.9 1206.6V1218.2M89.1 1211.8V1216.4M89.7 1214.0V1217.7M90.2 1214.9V1221.5M91.4 1215.3V1218.3M92.0 1216.0V1219.1M92.6 1216.6V1220.9M93.7 1215.3V1220.0M95.5 1214.5V1220.4M97.8 1208.1V1219.0M99.6 1206.1V1214.0M100.2 1210.0V1214.8M101.9 1208.4V1213.8M104.3 1202.8V1206.5M108.9 1191.7V1196.5M117.1 1152.0V1161.0M119.4 1094.2V1116.6M120.0 1115.3V1133.7M120.6 1129.2V1148.0M121.2 1142.2V1165.0M121.8 1160.8V1166.2M122.3 1160.9V1180.0M124.1 1148.2V1159.9M125.3 1151.4V1162.7M126.4 1156.0V1159.7M128.2 1154.9V1163.4M128.8 1160.8V1161.9M129.3 1160.7V1170.5M133.4 1133.6V1143.9M136.9 1128.5V1135.9M141.6 1091.7V1101.4M142.2 1097.1V1106.4M143.4 1095.9V1102.8M144.5 1092.2V1102.6M145.1 1095.4V1101.4M145.7 1098.8V1104.4M146.3 1101.3V1104.3M146.9 1101.7V1106.1M147.4 1101.2V1104.5M148.0 1102.1V1112.0M148.6 1103.6V1116.7M149.2 1108.8V1115.3M149.8 1110.8V1113.8M150.9 1106.7V1114.2M152.1 1108.5V1113.3M152.7 1108.7V1116.2M153.9 1106.6V1114.5M158.0 1100.6V1105.0M158.5 1099.2V1107.0M159.1 1103.6V1110.7M159.7 1106.0V1117.8M160.3 1106.5V1125.6M160.9 1112.2V1140.4M161.5 1134.7V1149.0M163.8 1122.6V1131.7M165.0 1120.8V1128.2M165.5 1117.8V1128.7M166.1 1125.0V1135.5M166.7 1125.7V1133.6M167.3 1127.6V1134.9M167.9 1131.2V1137.5M169.0 1134.9V1136.3M169.6 1132.4V1138.8M171.4 1134.0V1137.4M172.5 1133.8V1138.5M173.7 1133.7V1136.2M174.3 1128.0V1138.3M174.9 1130.1V1137.5M175.5 1135.3V1141.9M176.0 1135.7V1146.7M178.4 1125.0V1126.7M180.7 1110.3V1111.7M181.9 1106.1V1110.2M183.1 1104.4V1110.7M184.2 1106.0V1108.5M184.8 1105.4V1111.2M185.4 1108.6V1119.0M187.1 1108.5V1121.4M187.7 1113.5V1118.7M188.3 1115.0V1122.8M188.9 1115.3V1126.8M189.5 1125.1V1132.1M191.8 1114.8V1118.6M192.4 1115.2V1122.2M193.6 1117.0V1121.8M194.7 1117.1V1120.7M195.3 1119.9V1122.0M196.5 1116.2V1122.7M197.6 1117.9V1119.3M198.2 1117.2V1118.9M199.4 1117.0V1120.2M200.6 1118.1V1119.2M201.7 1115.8V1118.7M202.3 1116.2V1119.5M202.9 1115.7V1121.0M204.6 1112.0V1118.5M205.8 1114.2V1117.3M207.6 1113.7V1115.4M208.7 1114.3V1116.2M209.9 1112.8V1114.6M211.1 1110.9V1115.3M212.8 1107.2V1115.7M214.0 1109.6V1119.6M215.2 1108.1V1115.2M217.5 1102.2V1107.9M221.0 1096.7V1102.8M222.7 1098.1V1102.1M223.9 1097.6V1101.9M224.5 1100.8V1103.3M225.7 1100.1V1106.2M226.8 1098.8V1104.9M228.0 1100.0V1105.3M228.6 1101.2V1102.8M229.7 1101.0V1102.4M230.3 1101.3V1103.8M230.9 1103.3V1105.9M231.5 1103.1V1106.9M232.1 1104.6V1108.8M232.7 1105.0V1108.7M233.8 1105.8V1107.9M234.4 1107.0V1110.3M242.6 1057.8V1064.6M243.2 1054.5V1070.2M243.8 1052.3V1065.1M244.9 1056.4V1067.0M245.5 1062.2V1089.0M246.1 1077.1V1087.7M251.3 1002.9V1008.0M251.9 1005.4V1020.3M252.5 1011.6V1017.4M253.1 1012.5V1020.8M253.7 1018.6V1037.2M254.3 1033.4V1053.8M254.8 1051.3V1070.6M258.3 1034.6V1037.8M258.9 1031.2V1039.3M260.7 1029.7V1039.8M263.0 1032.7V1037.9M263.6 1037.5V1041.3M264.8 1035.7V1039.6M265.4 1034.9V1040.4M267.1 1034.6V1041.5M268.3 1037.0V1039.1M270.0 1035.6V1038.2M271.2 1036.3V1041.1M271.8 1037.8V1039.1M273.5 1033.1V1039.6M274.7 1030.3V1040.9M276.4 1035.8V1049.0M277.0 1042.5V1058.4M277.6 1056.0V1071.6M278.2 1069.8V1094.9M279.9 1051.9V1063.3M281.7 1050.5V1067.5M282.3 1057.0V1062.0M283.4 1059.0V1065.0M284.0 1060.9V1062.8M285.2 1059.1V1065.3M286.4 1059.0V1064.1M288.1 1056.6V1063.6M289.3 1059.2V1062.6M289.9 1060.0V1061.4M292.2 1057.3V1062.1M293.4 1059.2V1063.7M294.0 1061.7V1065.5M294.5 1060.5V1065.0M296.3 1053.7V1060.4M299.8 1040.2V1051.1M300.4 1045.8V1050.2M301.0 1047.2V1055.9M302.1 1046.5V1056.0M302.7 1051.3V1053.0M303.3 1050.3V1056.4M303.9 1051.8V1057.5M304.5 1054.3V1056.9M305.6 1052.1V1054.4M306.2 1052.6V1057.2M308.0 1051.1V1053.9M308.5 1052.8V1054.6M309.7 1053.0V1059.4M312.6 1044.5V1054.0M313.2 1048.8V1052.6M314.4 1050.4V1051.5M315.0 1047.9V1052.3M318.5 1041.5V1049.2M319.6 1042.6V1048.4M320.8 1042.4V1045.1M322.0 1043.5V1047.0M322.6 1044.7V1048.2M324.9 1038.8V1046.2M330.1 1017.7V1026.7M331.3 1019.4V1023.6M331.9 1022.4V1024.6M332.5 1022.7V1027.4M333.6 1022.8V1029.8M334.8 1024.9V1029.3M335.4 1024.9V1033.5M337.1 1026.4V1030.2M340.1 1014.6V1022.8M340.6 1018.0V1024.8M341.8 1015.7V1022.0M343.6 1017.0V1020.0M344.2 1016.8V1022.9M345.9 1016.7V1022.0M347.7 1012.4V1017.6M348.2 1015.0V1020.2M349.4 1012.9V1017.0M350.6 1012.5V1018.0M351.7 1007.7V1016.9M352.3 1012.5V1016.7M354.7 1006.7V1014.7M355.2 1007.0V1016.8M356.4 1006.0V1012.8M357.6 1005.2V1016.3M358.2 1008.0V1011.3M358.7 1007.7V1011.9M364.0 979.7V980.7M366.3 964.7V976.9M368.7 941.8V961.1M369.3 959.1V982.9M369.8 976.9V995.2M370.4 985.6V1005.7M371.0 993.9V1005.5M371.6 1001.7V1016.9M376.8 985.8V990.8M378.6 980.8V990.3M380.3 977.8V988.4M380.9 981.0V986.5M384.4 968.8V979.7M386.2 965.4V970.1M387.3 958.8V968.6M388.5 959.5V965.3M389.7 961.3V966.8M390.8 955.5V970.5M393.2 959.4V963.8M394.3 955.5V966.1M396.7 946.5V956.5M399.0 933.3V940.2M400.8 926.1V938.8M403.1 922.5V931.1M403.7 927.1V944.3M404.3 934.4V961.8M406.0 915.5V934.5M406.6 921.5V942.4M407.2 931.2V944.6M407.8 934.4V948.3M408.9 939.5V953.1M410.1 943.6V956.6M410.7 954.1V966.5M411.3 955.9V971.0M411.9 961.5V984.3M413.6 968.4V979.3M415.9 963.1V969.5M417.7 949.0V959.9M422.4 938.6V951.0M423.5 933.1V944.7M425.3 933.8V935.9M426.5 927.2V934.5M427.6 929.3V940.0M428.8 926.5V928.4M429.4 926.4V932.6M430.5 923.3V931.7M432.3 920.7V934.4M437.5 883.7V896.4M438.7 879.0V885.7M440.5 876.0V882.1M442.8 855.3V871.0M445.1 852.6V859.8M450.4 793.1V815.6M451.0 810.4V851.0M451.6 842.1V849.7M460.3 781.2V793.9M460.9 784.9V808.9M461.5 806.3V824.5M462.1 821.4V843.9M464.4 795.7V800.1M465.0 791.7V804.8M465.6 796.3V802.8M466.7 798.2V803.8M467.3 794.8V807.4M467.9 799.0V808.2M468.5 798.8V817.0M469.1 805.7V819.0M470.2 812.2V822.5M472.6 808.8V814.5M473.7 804.6V807.7M475.5 795.4V808.8M476.1 807.3V818.1M476.7 812.2V825.8M477.2 820.8V826.9M477.8 824.1V836.1M478.4 834.1V845.5M479.0 843.6V859.2M479.6 853.7V870.0M486.0 786.4V795.2M486.6 791.0V800.7M488.9 782.8V791.4M490.1 786.4V787.8M493.0 756.8V761.0M494.2 750.4V761.2M498.8 703.9V725.3M499.4 721.4V726.1M500.0 721.1V730.7M503.5 705.0V714.9M505.3 705.7V715.5M506.4 696.7V706.4M508.2 696.0V706.2M509.3 697.0V709.0M509.9 704.5V710.7M511.1 702.3V724.2M511.7 707.2V713.2M512.3 709.7V715.8M512.8 713.7V719.6M513.4 717.1V725.0M514.0 718.9V726.0M514.6 722.3V734.4M515.2 732.0V750.0M515.8 742.2V777.9M519.3 735.3V751.6M520.4 736.5V741.3M522.2 728.2V733.6M524.5 722.1V728.4M529.2 699.3V708.8M532.7 663.9V677.3M533.9 663.4V675.8M535.0 663.0V672.6M536.2 664.1V668.9M537.9 660.6V674.2M538.5 666.4V672.6M539.7 665.4V673.6M546.1 629.3V635.9M546.7 628.3V644.8M547.3 634.5V639.5M547.9 638.0V648.0M548.4 638.8V651.3M549.0 641.8V662.2M549.6 652.0V676.0M552.5 618.3V626.5M556.6 603.5V612.2M564.2 466.5V504.8M564.8 495.3V519.5M570.0 452.4V471.0M570.6 463.0V489.8M571.2 477.1V489.4M571.8 486.4V507.3M572.4 505.0V512.4M573.5 499.4V506.2M575.3 490.5V509.5M575.9 503.1V515.4M576.5 505.3V517.5M577.0 514.3V527.0M580.0 500.1V504.4M581.1 492.7V497.0M582.3 485.6V490.0M582.9 483.0V493.6M583.5 486.8V501.4M584.1 493.5V508.9M584.6 505.6V517.1M585.8 511.3V520.9M586.4 512.8V520.8M587.0 515.3V527.8M587.6 522.8V531.7M588.1 529.9V541.4M588.7 527.9V544.3M589.3 540.4V552.9M589.9 540.4V553.8M591.1 548.3V551.4M591.6 547.9V550.8M592.2 545.1V553.5M594.0 545.1V560.7M595.1 543.7V558.9M595.7 553.0V563.0M596.3 550.6V570.5M596.9 568.9V577.6M597.5 574.3V583.8M598.1 575.5V589.8M599.8 581.2V664.2M608.0 551.5V557.5M608.6 545.8V560.3M609.2 556.7V562.6M610.3 556.4V566.4M612.7 551.8V556.5M613.8 544.6V552.3M615.0 548.0V556.9M615.6 548.2V572.6M616.2 561.5V564.2M616.7 562.8V575.1M617.3 573.0V585.6M617.9 578.4V583.4M618.5 580.7V587.4M619.1 585.6V597.6M619.7 591.1V602.0M620.2 595.1V599.8M620.8 592.9V603.1M621.4 591.5V616.6M622.0 611.2V619.8M623.2 612.9V620.5M624.9 617.8V633.5M625.5 622.4V628.6M626.7 619.6V635.6M627.8 624.0V634.9M628.4 630.9V637.6M629.0 632.8V645.9M629.6 638.1V645.1M630.7 635.8V646.0M631.3 643.6V651.0M632.5 642.7V647.3M634.3 638.1V643.8M639.5 607.3V613.7M641.8 595.9V607.8M643.6 591.8V601.0M645.9 581.1V586.7M646.5 580.1V584.4M647.1 583.8V590.2M648.3 578.1V590.2M650.6 573.0V584.0M651.8 573.5V591.1M653.5 575.7V599.6M654.7 589.0V593.9M655.8 584.8V595.7M656.4 594.0V604.5M657.0 596.5V602.2M657.6 597.6V602.8M658.2 600.4V615.2M659.9 607.3V620.2M661.1 609.3V619.8M661.7 607.8V624.0M662.9 616.1V625.4M663.4 618.6V626.7M664.0 624.2V627.5M666.9 619.3V627.6M668.7 619.5V622.7M669.3 619.2V627.9M669.9 622.9V625.9M670.4 621.9V629.2M671.0 615.4V634.0M671.6 624.5V636.5M672.8 628.7V645.4M673.4 637.6V647.2M673.9 640.2V651.9M674.5 645.1V653.9M675.1 652.2V668.2M676.3 653.3V660.3M676.9 656.2V666.8M678.0 656.9V666.5M678.6 661.0V668.0M679.2 663.0V669.4M679.8 664.1V667.8M682.1 656.4V663.8M684.4 645.5V646.9M685.0 642.9V648.5M685.6 646.4V649.9M686.2 645.8V648.6M686.8 644.3V653.2M689.7 637.7V648.8M690.3 642.5V650.2M690.9 647.9V657.7M691.5 652.9V656.7M695.0 614.9V625.4M699.0 598.5V611.7M699.6 601.9V611.7M700.2 609.1V614.8M701.4 609.6V621.8M702.5 615.1V626.4M703.1 619.0V624.4M703.7 617.9V631.4M704.9 627.3V636.5M705.5 628.7V641.4M706.0 637.0V648.5M706.6 640.8V647.9M707.2 645.9V652.6M707.8 648.3V660.9M708.4 647.8V658.4M709.0 647.7V660.1M710.1 656.2V660.6M713.0 647.5V652.9M714.2 639.4V655.1M716.0 639.5V649.2M717.7 641.0V644.6M719.5 636.3V642.9M721.2 627.2V641.8M722.4 620.2V633.4M723.0 631.8V638.3M723.6 636.8V646.1M724.1 640.1V652.6M724.7 643.1V655.4M726.5 647.4V658.5M727.6 648.9V657.7M730.0 645.5V651.4M730.6 647.0V651.0M734.1 642.8V646.0M734.6 643.0V645.2M735.8 644.5V649.1M737.0 639.6V646.2M738.1 643.7V649.6M741.1 644.4V648.8M741.7 646.2V650.5M742.2 646.9V650.1M743.4 647.6V650.9M745.2 649.3V651.3M746.3 647.0V650.3M746.9 646.8V650.6M748.1 647.6V652.6M748.7 650.7V651.7M749.2 650.7V651.7M750.4 649.2V652.8M751.6 648.0V652.2M752.7 650.4V653.4M753.9 650.0V651.7M755.7 649.8V653.0M756.2 650.6V652.1M758.6 648.6V651.3M759.7 646.6V653.7M760.3 646.6V656.6M762.1 646.3V663.9M762.7 655.5V664.1M763.2 660.2V677.6M763.8 669.7V694.1M765.6 672.9V687.1M766.2 682.7V705.4M766.8 694.8V703.2M767.3 699.0V723.1M767.9 716.4V733.9M768.5 722.7V740.0M769.1 733.8V751.9M769.7 738.7V753.0M772.0 729.9V737.3M773.2 724.8V732.3M773.8 729.3V746.2M774.3 734.8V746.5M774.9 741.7V753.3M775.5 746.1V758.9M776.1 753.1V763.1M776.7 753.4V760.7M777.3 754.3V770.5M777.8 761.5V773.1M779.6 759.5V770.0M780.8 765.4V769.7M781.3 758.5V772.2M786.6 730.2V742.8M787.2 733.7V742.4M788.3 736.2V740.9M789.5 735.2V740.7M790.7 736.3V739.5M792.4 731.8V739.4M794.8 728.3V734.2M795.4 724.6V734.4M795.9 730.5V740.4M796.5 735.9V750.6M797.1 737.7V751.6M797.7 748.4V756.1M798.3 747.4V752.7M799.4 740.1V751.2M800.6 742.6V746.5M801.2 746.3V749.9M802.4 747.5V749.2M802.9 746.3V754.5M804.1 749.8V757.3M805.3 749.9V755.2M806.4 748.2V756.3M807.0 753.9V761.2M807.6 757.4V761.9M809.4 753.5V758.4M809.9 753.6V764.0M812.9 752.6V755.6M815.8 745.8V753.8M816.9 744.4V752.3M818.1 741.3V748.9M820.5 739.1V749.7M822.2 735.7V741.5M822.8 738.5V746.4M823.4 739.4V748.2M824.0 741.9V744.8M825.1 742.3V745.0M825.7 743.9V744.9M828.6 734.5V739.2M829.8 734.0V738.3M831.5 731.9V734.6M832.7 732.5V739.6M834.5 733.2V735.4M835.6 732.9V737.0M836.8 728.5V734.5M837.4 730.9V736.8M839.1 732.4V736.2M842.0 718.7V731.6M845.5 688.4V694.4M847.3 683.7V688.6M847.9 684.0V692.2M848.5 688.6V690.1M850.2 684.6V692.8M852.6 685.4V690.9M853.7 685.4V688.9M854.3 687.1V690.0M855.5 683.4V688.7M856.6 686.5V690.2M857.8 677.5V689.6M859.0 681.8V690.7M859.6 686.0V691.9M861.9 679.5V690.5M863.6 663.7V672.9M864.8 666.7V673.7M870.6 609.9V618.7M871.8 611.0V621.1M873.0 613.7V619.4M874.2 612.3V619.1M877.1 600.3V605.0M878.2 596.5V607.2M879.4 598.2V605.8M880.6 599.6V615.2M881.2 608.1V616.0M881.7 608.5V620.8M882.3 618.3V625.3M885.8 607.5V614.5M895.2 521.5V533.8M895.7 523.2V553.4M896.3 545.1V563.9M896.9 553.7V574.4M898.1 563.2V568.1M902.8 519.1V548.8M903.3 540.1V557.0M903.9 550.7V562.0M904.5 558.6V575.9M906.8 562.8V568.9M908.0 561.9V572.8M909.8 566.2V577.0M910.3 566.6V578.1M910.9 569.7V579.9M911.5 575.8V579.1M912.1 577.9V583.8M913.3 572.2V581.0M918.5 538.4V545.6M919.1 540.0V549.9M919.7 545.1V559.3M920.3 550.6V559.7M920.8 553.8V559.5M921.4 557.7V566.6M922.0 557.0V565.3M923.2 554.4V569.1M923.8 565.8V574.9M925.5 563.2V569.0M926.7 562.6V572.3M927.3 569.8V575.1M927.9 570.6V577.5M928.4 570.9V576.6M929.6 572.1V578.6M932.5 566.6V571.4M934.9 555.6V564.9M936.0 557.2V564.1M936.6 561.7V566.4M937.8 560.9V569.1M938.4 567.4V570.3M940.1 565.7V572.8M941.9 564.8V574.7M942.4 567.0V577.6M944.8 568.6V579.1M945.4 573.8V582.2M945.9 578.3V588.9M946.5 586.9V593.7M947.1 590.5V602.2M947.7 591.4V604.1M948.3 592.7V610.6M949.4 606.1V611.6M950.0 609.5V617.8M951.2 608.4V610.8M952.4 602.8V612.0M954.1 605.7V607.3M955.3 605.0V607.0M955.9 606.0V607.0M956.5 604.0V610.9M957.6 600.6V608.2M958.2 606.2V610.6M958.8 605.3V615.1M960.0 607.2V613.2M960.5 610.3V616.4M961.1 611.9V618.9M962.3 603.7V615.3M962.9 609.6V621.3M963.5 613.6V625.7M966.4 559.9V574.0M967.5 562.7V578.1M968.1 574.8V577.8M968.7 575.1V580.1M969.3 574.2V587.8M969.9 579.9V592.1M971.0 582.3V596.2M972.2 579.8V591.5M972.8 590.7V594.7M974.5 589.1V598.2M975.1 591.3V605.9M975.7 591.8V600.4M976.3 591.9V602.1M976.9 590.8V601.7M977.5 593.6V607.1M978.6 601.4V612.2M979.8 601.4V617.1M980.4 609.7V623.8M981.0 616.4V620.3M982.1 615.6V628.5M982.7 619.8V635.5M983.9 618.2V628.2M984.5 624.8V633.7M986.2 624.9V625.9M987.4 617.9V625.9M988.0 622.9V626.0M989.1 616.8V623.2M989.7 622.5V627.0M990.9 622.6V628.4M991.5 625.5V627.8M992.1 627.6V629.3M993.2 625.7V630.8M994.4 623.5V629.0M995.6 627.5V630.8M996.7 627.3V631.1M997.3 627.1V634.1M998.5 628.2V631.2M999.6 627.9V630.3M1000.8 625.3V631.1M1002.0 625.5V629.8M1002.6 627.9V632.0M1003.7 624.3V630.1M1006.1 619.1V625.6M1007.8 609.3V620.1M1009.0 604.3V615.8M1011.3 600.6V610.4M1014.8 590.3V602.6M1018.3 580.4V588.2M1020.7 580.5V583.4M1021.8 580.2V586.3M1023.0 576.1V585.8M1024.7 576.9V581.9M1025.3 575.4V581.1M1026.5 573.0V577.7M1029.4 570.9V572.5M1030.6 566.9V572.7M1031.2 564.5V574.2M1031.8 568.7V580.4M1032.9 568.6V579.6M1034.1 565.6V575.2M1034.7 570.7V587.3M1035.8 572.4V584.3M1036.4 576.1V594.3M1037.6 583.2V589.2M1038.2 588.7V590.9M1038.8 586.6V594.1M1039.9 589.7V597.8M1041.7 588.2V596.7M1042.3 588.0V609.7M1042.8 594.0V611.6M1043.4 605.6V607.5M1044.0 606.9V612.6M1044.6 611.1V623.6M1045.2 620.9V633.8M1045.8 623.5V669.9M1046.3 658.8V740.1M1052.8 633.7V649.2M1053.9 639.4V650.7M1054.5 638.7V650.6M1055.7 640.1V644.6M1057.4 637.0V646.9M1058.6 634.4V638.4M1059.8 630.6V636.1M1061.5 627.8V635.1M1062.1 629.0V634.7M1062.7 632.1V642.5M1064.4 631.9V637.8M1065.6 633.0V638.2M1066.2 634.5V637.5M1067.4 631.2V644.2M1068.5 633.0V648.3M1071.4 624.0V632.7M1074.4 612.8V617.4M1075.5 601.8V610.7M1077.3 594.9V600.5M1077.9 595.4V601.8M1078.4 597.0V601.3M1079.0 597.4V609.4M1079.6 601.4V608.4M1082.5 578.8V584.6M1083.1 577.9V584.6M1084.3 574.6V583.2M1084.9 575.7V582.0M1086.0 577.1V579.5M1086.6 576.1V585.4M1087.2 584.3V587.9M1087.8 583.7V592.1M1088.4 586.7V606.3M1089.0 591.8V596.3M1089.5 589.9V600.3M1093.0 568.5V573.2M1093.6 572.7V580.5M1094.2 568.4V585.7M1094.8 578.8V592.9M1096.5 579.6V589.9M1097.7 575.8V583.4M1098.3 578.1V585.5M1098.9 582.7V586.2M1100.0 579.6V588.8M1100.6 585.1V590.9M1101.8 585.5V593.4M1103.5 587.3V591.9M1104.7 588.7V591.4M1106.5 584.4V591.5M1108.2 589.2V593.8M1108.8 590.4V594.1M1109.4 591.9V596.7M1111.1 591.7V593.3M1113.5 586.5V592.0M1115.8 580.8V587.5M1116.4 586.2V594.0M1117.0 587.7V593.5M1118.1 585.3V594.4M1118.7 588.7V594.1M1119.9 590.7V592.8M1121.1 587.4V594.2M1122.8 583.3V590.6M1125.7 554.2V573.3M1126.9 558.7V560.8M1128.1 546.2V557.6M1130.4 545.5V550.4M1131.6 542.9V547.6M1132.7 545.0V547.2M1133.9 543.4V545.5M1135.1 542.8V548.4M1136.2 543.2V547.2M1136.8 545.2V549.6M1138.0 545.6V549.3M1138.6 546.5V549.1M1139.7 548.0V553.8M1140.9 546.6V552.1M1141.5 551.1V553.6M1142.7 543.5V554.1M1143.8 548.3V554.3M1144.4 548.8V552.8M1145.6 548.6V565.9M1146.2 556.8V565.2M1146.7 555.6V573.5M1147.3 568.1V576.6M1147.9 566.8V580.0M1150.8 571.9V581.1M1155.5 556.4V568.4M1156.1 563.5V566.9M1156.7 561.4V576.1M1159.0 565.5V571.2M1160.2 567.4V572.1M1161.3 568.1V570.5M1162.5 562.7V567.3M1163.7 564.9V571.4M1165.4 562.2V568.8M1166.6 559.6V567.0M1170.1 549.4V556.3M1171.3 550.1V558.2M1173.6 542.8V546.6M1176.5 532.9V538.3M1177.7 526.7V535.5M1180.6 524.6V526.2M1182.3 519.5V535.5M1187.6 497.9V498.9M1189.9 483.2V492.9M1192.9 467.9V482.7M1195.8 461.6V472.0M1196.4 470.3V482.9M1197.5 476.7V485.1M1201.6 457.0V467.4M1202.8 462.6V468.8M1203.4 465.4V471.4M1204.5 467.8V473.9M1205.1 470.2V475.6M1205.7 469.0V474.4M1210.4 437.6V445.8M1212.1 426.6V433.6M1212.7 430.6V441.5M1215.0 414.3V420.1M1216.8 399.0V407.0M1223.2 334.9V347.7M1223.8 342.0V353.2M1224.4 346.2V362.2M1225.0 358.8V361.5M1227.3 347.7V352.9M1227.9 350.7V361.8M1228.5 358.9V363.5M1229.0 361.9V373.7M1229.6 364.5V379.0M1230.2 373.4V380.7M1230.8 368.6V379.3M1231.4 373.3V391.1M1233.1 377.6V385.1M1234.9 366.3V375.2M1237.2 349.6V361.8M1247.7 271.6V288.6M1248.3 285.2V297.6M1248.9 295.6V305.9M1249.5 296.7V316.9M1250.1 307.8V320.7M1250.6 308.6V327.5M1252.4 309.2V319.8M1259.4 264.8V276.8M1260.6 268.9V280.7M1261.7 269.6V278.3M1262.3 274.6V292.7M1262.9 283.0V294.0M1263.5 280.6V291.6M1264.6 283.3V290.5M1265.2 286.2V293.5M1266.4 290.2V296.6M1269.9 267.0V279.3M1270.5 274.5V284.1M1271.7 268.0V283.8M1273.4 270.0V276.8M1274.0 274.6V278.8M1275.7 270.4V278.6M1277.5 259.3V265.2M1279.2 257.1V272.9M1279.8 271.9V281.5M1280.4 275.8V286.1M1281.0 278.5V286.3M1281.6 281.4V301.5M1282.7 293.8V304.6M1283.3 295.4V304.4M1283.9 300.6V311.0M1284.5 303.3V312.7M1288.6 281.6V286.0M1290.3 274.7V282.0M1292.7 268.1V277.7M1293.2 274.4V284.7M1293.8 276.5V287.4M1294.4 284.7V291.8M1295.0 284.9V302.7M1295.6 291.6V298.4M1296.2 293.8V309.1M1297.3 301.3V315.8M1297.9 309.3V321.4M1298.5 318.3V330.5M1299.1 325.1V331.8M1299.7 327.3V349.8M1300.3 338.3V363.9M1300.8 357.8V381.9M1303.2 346.1V350.2M1304.9 339.5V346.6M1305.5 340.8V347.0M1306.7 345.3V355.9M1307.3 349.8V355.9M1308.4 344.3V354.4M1309.0 349.8V360.8M1310.2 350.4V351.4M1313.7 337.6V344.0M1314.3 333.7V348.5M1314.8 341.1V348.6M1316.0 343.1V352.1M1316.6 346.6V355.5M1317.8 348.9V365.3M1318.3 364.1V371.5M1318.9 358.5V372.9M1319.5 369.9V379.6M1323.6 358.9V361.6M1324.2 358.0V364.5M1325.9 357.5V366.4M1326.5 360.6V368.4M1327.1 363.7V369.2M1328.3 359.0V369.4M1329.4 361.3V381.0M1330.0 368.6V379.3M1330.6 373.0V375.3M1331.2 371.4V375.8M1331.8 373.7V383.3M1332.9 372.2V386.3M1333.5 374.9V390.6M1334.1 375.9V386.8M1338.2 343.0V355.8M1339.4 338.2V348.4M1341.1 336.3V338.9M1342.3 327.5V338.6M1343.4 323.4V328.2M1346.4 297.5V318.7M1346.9 307.8V320.4M1348.7 308.6V313.4M1351.0 305.0V308.1M1351.6 307.8V309.2M1354.0 301.4V305.2M1354.5 301.7V308.1M1356.3 301.2V304.5M1357.5 300.5V304.4M1358.0 299.8V304.5M1359.2 298.2V303.1M1360.4 296.7V303.4M1362.7 289.1V301.9M1363.3 292.1V298.4M1363.9 292.6V313.8M1364.5 306.9V319.3M1365.6 307.0V321.6M1366.8 312.5V322.0M1368.0 313.8V319.8M1369.1 312.5V317.1M1369.7 314.1V323.6M1370.3 314.3V320.8M1370.9 317.8V327.2M1372.0 320.3V340.0M1373.8 329.6V334.2M1374.4 330.2V335.3M1380.2 285.6V300.2M1381.4 283.4V293.5M1382.6 275.4V284.8M1384.3 262.0V273.0M1386.6 253.2V257.3M1387.2 254.8V261.0M1387.8 251.4V261.0M1388.4 251.7V259.6M1389.0 257.8V261.9M1389.6 257.7V261.6M1390.1 258.2V261.5M1390.7 258.8V261.5M1391.3 253.2V266.2M1392.5 256.3V271.0M1394.2 257.8V268.8M1397.1 255.7V261.7M1398.9 252.3V256.2M1400.1 247.4V254.6M1400.6 250.6V254.9M1401.2 250.3V257.2M1402.4 249.5V263.4M1403.0 250.2V263.6M1404.2 257.4V272.1M1404.7 264.1V272.9M1406.5 265.2V270.9M1407.7 262.3V281.4M1409.4 270.5V275.5M1410.0 268.2V281.0M1411.2 272.0V280.0M1411.7 276.7V279.3M1412.3 274.5V285.2M1412.9 276.2V288.4M1413.5 280.8V302.3M1414.1 297.8V319.7M1414.7 308.9V321.6M1415.8 300.4V311.7M1416.4 302.2V309.7M1417.0 301.8V315.1M1417.6 309.7V321.5M1418.7 306.9V314.9M1419.9 307.0V314.8M1421.1 308.8V314.8M1422.2 309.5V314.2M1425.7 294.7V309.7M1427.5 293.8V304.8M1428.1 295.4V300.4M1428.7 298.9V304.2M1429.2 300.9V309.0M1429.8 304.2V312.7M1430.4 309.6V317.6M1431.0 307.6V316.8M1431.6 309.3V317.0M1433.3 313.8V318.3M1433.9 315.5V324.7M1434.5 324.3V328.3M1435.1 319.3V332.9M1436.3 320.2V340.9M1437.4 327.0V345.5M1438.0 333.3V345.7M1438.6 325.7V344.5M1439.8 334.1V339.9M1440.9 337.7V353.5M1441.5 345.6V357.7M1442.1 351.3V360.3M1442.7 350.1V363.0M1443.3 360.6V366.2M1443.8 362.0V367.5M1445.6 347.0V352.7M1446.8 343.1V350.7M1447.9 340.4V353.7M1453.8 314.3V320.1M1454.3 314.1V322.5M1454.9 317.2V323.7M1455.5 316.1V323.2M1456.7 316.7V334.5M1457.3 320.7V330.0M1457.9 322.6V331.1M1458.4 327.1V340.0M1459.6 332.4V344.9M1460.2 338.2V347.0M1460.8 340.6V353.3M1461.4 346.0V352.4M1461.9 348.3V362.7M1465.4 318.7V325.3M1466.0 323.5V333.6M1466.6 329.3V335.7M1467.2 331.5V344.1M1468.4 337.9V345.3M1468.9 341.2V345.1M1471.3 330.6V344.5M1473.6 331.6V336.9M1474.8 322.9V335.0M1478.9 315.8V318.5M1480.0 302.1V314.6M1481.8 308.1V311.0M1482.4 310.5V314.9M1483.5 307.0V312.1M1484.7 304.5V318.5M1485.3 312.6V320.0M1485.9 317.3V326.6M1486.5 319.9V331.1M1487.0 319.5V331.6M1488.2 325.5V334.3M1488.8 324.5V342.1M1490.0 333.1V339.0M1491.1 330.4V338.0M1491.7 336.2V340.1M1492.9 332.6V336.5M1495.8 331.3V336.6M1497.0 334.0V338.2M1497.5 332.7V338.9M1498.7 336.1V341.9M1499.9 337.1V343.6M1500.5 336.0V344.5M1501.0 337.6V346.6M1502.2 337.1V351.6M1502.8 344.4V352.6M1504.0 342.8V354.9M1504.5 350.0V365.9M1505.1 354.5V367.5M1505.7 363.5V378.3M1506.3 375.8V389.4M1506.9 385.4V410.2M1507.5 403.4V411.5M1512.7 384.5V394.9M1513.9 386.1V394.9M1515.1 391.2V397.6M1516.2 386.0V388.1M1519.1 375.6V378.8M1520.3 371.6V390.0M1521.5 378.1V388.7M1522.6 375.4V394.8M1523.2 386.0V395.6M1523.8 384.1V401.5M1524.4 398.2V409.4M1525.0 399.3V421.3M1525.6 408.4V430.6M1526.1 426.2V447.8M1526.7 441.5V463.8M1527.3 460.0V482.5M1530.2 447.6V452.0M1532.0 442.3V449.9M1533.7 442.7V450.3M1534.3 445.2V449.4M1534.9 444.3V452.0M1536.1 443.3V451.3M1536.7 442.1V457.0M1537.8 452.6V462.3M1538.4 455.3V468.1M1539.0 455.8V463.1M1539.6 457.9V472.8M1543.1 438.0V445.4M1544.8 430.3V438.2M1547.2 424.7V432.2M1547.7 425.5V435.6M1548.3 430.3V435.2M1548.9 431.1V441.9M1550.1 435.9V440.1M1550.7 436.1V442.8M1556.5 419.7V426.3M1557.7 422.3V427.2M1560.6 417.5V429.2M1561.7 424.2V432.7M1562.9 422.7V433.4M1564.1 427.1V442.6M1564.7 428.8V444.1M1565.8 435.3V447.9M1566.4 441.7V451.0M1568.2 444.7V448.8M1568.8 443.8V453.2M1569.3 447.0V452.3M1569.9 447.3V458.0M1571.1 451.1V464.5M1572.3 453.1V461.7M1573.4 456.8V464.4M1574.0 454.9V463.5M1574.6 460.8V464.6M1576.9 443.8V459.7M1578.7 434.3V444.5M1579.3 436.6V450.9M1579.8 449.1V458.7M1580.4 451.8V460.2M1581.0 456.8V462.5M1582.2 458.3V466.4M1583.3 458.3V464.7M1584.5 461.2V465.1M1586.8 455.0V463.8M1587.4 460.6V465.0M1589.8 454.9V459.2M1590.4 458.7V460.4M1592.7 455.6V458.8M1593.3 455.8V462.0M1593.9 456.5V458.8M1594.4 458.4V460.3M1595.0 454.8V461.6M1595.6 459.7V462.9M1596.2 458.5V467.0M1599.1 458.4V465.3M1600.9 462.4V464.8M1602.0 456.5V467.7M1604.4 454.6V464.2M1606.1 450.3V458.0M1607.9 447.1V453.3M1609.0 445.6V453.6M1609.6 446.2V457.9M1610.2 446.9V455.6M1610.8 451.5V460.1M1611.4 450.4V459.5M1612.5 455.7V481.6M1613.1 478.5V488.6M1613.7 486.7V497.1M1614.3 492.2V498.6M1616.6 486.1V491.0M1617.2 489.1V491.4M1617.8 489.3V493.0M1619.0 490.2V496.0M1619.5 492.3V497.3M1624.8 479.5V487.7M1626.0 481.7V487.7M1627.7 478.6V486.9M1628.9 481.9V487.8M1630.0 477.8V482.9M1631.2 480.8V485.7M1633.0 476.2V481.3M1633.5 478.4V479.6M1634.1 477.5V487.1M1634.7 484.0V493.3M1636.5 485.0V487.8M1638.2 486.6V487.6M1638.8 487.1V488.5M1640.0 486.1V489.1M1640.5 487.4V489.9M1641.1 486.6V489.7M1642.3 485.5V490.2M1643.5 483.6V492.2M1646.4 480.1V485.2M1647.0 480.4V494.9M1651.6 451.8V462.1M1652.8 442.2V448.3M1654.6 433.9V441.4M1656.3 430.4V439.0M1658.1 431.5V432.7M1659.2 428.1V431.7M1660.4 429.6V432.5M1662.1 428.6V435.4M1663.3 428.3V437.3M1664.5 430.7V438.5M1665.1 432.1V437.0M1667.4 426.6V429.5M1669.2 422.5V426.9M1669.7 416.9V424.8M1671.5 419.4V425.0M1672.1 422.8V427.3M1673.8 423.7V426.4M1675.0 422.0V430.0M1675.6 426.6V433.7M1676.2 426.5V436.2M1676.7 431.7V435.9M1677.9 433.1V439.0M1678.5 434.5V445.0M1679.7 437.7V449.6M1680.8 440.9V449.7M1681.4 438.6V449.4M1682.0 443.9V453.2M1683.2 444.9V457.4M1684.3 441.2V466.7M1687.8 412.0V415.8M1690.7 394.4V402.8M1691.9 393.1V404.1M1693.7 399.0V400.0M1694.8 395.9V400.9M1695.4 397.7V402.2M1698.3 394.2V403.1M1700.1 389.3V396.0M1702.4 382.1V387.0M1703.0 382.4V391.3M1703.6 385.8V392.3M1704.2 390.2V392.9M1704.8 388.8V397.0M1705.3 393.2V397.8M1705.9 390.4V402.2M1706.5 397.3V399.1M1708.8 394.0V399.2M1709.4 395.0V396.5M1711.2 390.9V396.2M1712.9 393.5V396.3M1714.7 391.5V400.1M1715.8 391.7V398.7M1716.4 398.0V401.2M1717.6 392.6V399.7M1718.2 398.0V404.2M1718.8 397.4V404.5M1719.3 398.1V405.4M1719.9 403.1V406.5M1721.1 401.9V408.1M1721.7 405.3V410.9M1722.9 403.0V409.5M1723.4 405.6V409.6M1724.6 404.9V406.5M1725.2 405.2V407.1M1725.8 406.4V408.3M1726.4 406.4V408.0M1727.5 406.9V408.0M1728.7 405.3V408.1M1729.9 405.8V407.3M1730.4 406.3V407.3M1731.0 406.6V408.4M1732.2 405.4V409.5M1734.5 405.7V407.9M1735.7 405.1V410.2M1736.9 407.2V414.7M1738.0 411.4V417.5M1738.6 416.5V423.7M1740.4 413.8V424.6M1742.1 402.0V407.8M1744.4 379.7V393.2M1745.6 381.1V385.7M1746.2 380.2V391.6M1748.0 380.8V385.8M1750.3 380.4V383.8M1750.9 382.3V385.7M1752.0 383.7V387.0M1753.2 383.6V384.6M1755.5 380.9V384.8M1756.7 380.9V383.7M1757.3 380.9V386.2M1757.9 383.7V386.3M1758.5 383.8V385.6M1759.0 384.9V391.1M1760.2 385.0V389.5M1760.8 384.7V388.5M1762.0 385.2V391.1M1762.5 389.9V394.0M1764.3 387.2V391.8M1766.0 389.2V394.5M1767.2 389.5V391.5M1768.4 389.2V393.9M1769.5 390.6V393.9M1770.7 389.3V391.5M1771.3 391.0V393.0M1771.9 391.4V393.8M1773.0 386.1V391.5M1773.6 388.8V400.8M1774.2 393.3V396.8M1775.4 393.7V411.2M1776.0 398.1V410.5M1776.6 403.8V421.4M1778.3 410.9V416.2M1778.9 415.0V418.0M1781.2 411.4V412.9M1781.8 411.9V414.8M1783.0 411.2V417.9M1784.1 412.9V414.0M1785.3 411.8V415.0M1785.9 412.4V417.0M1787.1 412.7V417.3M1788.8 412.8V420.6M1789.4 414.4V422.9M1790.6 414.0V415.7M1791.1 414.2V418.0M1792.9 411.7V415.4M1795.2 405.2V408.6M1796.4 403.2V410.6M1797.6 402.8V411.1M1798.1 402.5V408.1M1799.9 403.5V404.5M1801.1 401.6V405.4M1802.8 401.5V406.8M1804.0 401.0V405.1M1805.2 400.2V404.6M1805.7 398.4V405.5M1807.5 402.3V408.2M1808.7 400.7V406.1M1809.8 398.4V408.5M1812.7 386.9V398.5M1813.9 389.3V395.1M1814.5 384.7V396.6M1816.8 364.4V370.2M1818.0 356.9V371.3M1819.2 360.1V368.9M1820.3 361.9V366.6M1821.5 363.1V366.5M1822.7 357.5V363.3M1824.4 356.8V363.9M1827.3 351.5V355.1M1829.7 349.6V353.7M1830.8 346.8V350.8M1831.4 347.9V353.5M1832.6 346.7V350.7M1834.3 347.3V361.3M1835.5 343.6V351.7M1837.3 347.8V352.2M1838.4 339.8V344.9M1840.2 327.9V328.9M1840.8 328.2V329.2M1842.5 318.3V328.1M1843.7 319.5V323.2M1844.3 319.6V326.7M1844.8 322.8V329.9M1846.0 323.6V328.2M1846.6 325.8V329.6M1847.2 326.4V330.1M1847.8 328.1V333.7M1850.1 326.5V328.2M1850.7 322.1V330.0M1851.8 325.4V328.5M1853.6 323.9V330.2M1854.8 321.7V329.7M1855.9 323.5V326.9M1857.1 320.4V328.9M1857.7 314.1V329.4M1861.2 304.5V313.0M1861.8 304.8V316.1M1862.4 314.5V323.5M1862.9 313.6V323.5M1863.5 320.1V331.6M1864.7 314.4V327.7M1865.3 324.4V334.8M1866.4 324.6V336.0M1867.0 325.6V334.4M1867.6 328.4V334.5M1868.2 332.9V339.7M1868.8 335.6V340.0M1869.4 337.7V344.3M1871.1 339.1V346.5M1875.2 322.4V341.3M1876.4 323.2V334.7M1881.0 296.5V302.8M1883.4 292.3V294.7M1884.0 292.6V298.5M1885.1 292.2V298.9M1886.9 291.0V303.1M1888.0 289.8V299.3M1891.5 263.7V272.0M1898.0 233.8V248.2M1898.5 242.6V247.9M1899.1 244.5V247.8M1899.7 244.7V252.3M1900.9 246.0V253.5M1901.5 243.7V261.8M1902.0 253.9V260.6M1904.4 241.9V245.6M1905.5 241.6V247.9M1906.7 239.2V246.9M1907.9 237.0V243.1M1909.1 239.7V243.1M1909.6 241.0V243.9M1910.8 240.1V245.8M1912.6 235.9V246.5M1914.3 236.9V244.6M1914.9 241.6V246.0M1915.5 242.5V251.7M1916.1 244.7V259.1M1917.2 253.3V259.8M1918.4 256.9V264.3M1920.1 248.7V258.7M1921.3 252.9V258.7M1921.9 256.8V261.5M1924.2 253.9V265.1M1926.0 259.5V272.0M1926.6 267.9V272.7M1927.1 268.1V283.4M1930.6 256.5V262.2M1931.2 252.9V266.9M1933.0 255.7V260.6M1933.6 256.9V261.8M1936.5 247.7V254.3M1938.8 239.9V245.3M1940.0 241.3V249.4M1941.7 240.0V242.0M1942.3 241.1V242.4M1942.9 239.6V243.6M1944.7 241.2V244.2M1945.2 240.4V246.2M1947.6 238.2V243.6M1948.2 240.7V245.9M1949.3 241.7V244.6M1950.5 243.9V248.8M1951.1 246.0V249.9M1951.7 246.9V252.1M1952.2 248.2V250.6M1953.4 247.1V251.6M1954.0 247.7V253.8M1954.6 251.4V259.1M1955.7 251.8V256.2M1956.9 253.0V258.1M1957.5 256.6V261.7M1958.1 254.5V260.5M1958.7 255.9V264.6M1959.2 258.2V266.4M1959.8 258.7V266.5M1960.4 255.7V272.2M1962.2 261.0V278.2M1962.8 274.5V281.4M1964.5 273.9V286.6M1965.7 277.3V293.4M1972.1 248.2V261.3M1974.4 249.1V254.3M1975.6 245.2V253.5M1977.9 244.2V248.9M1978.5 245.9V250.9M1979.1 243.1V251.0M1979.7 245.3V255.8M1980.3 247.9V258.5M1980.8 252.4V261.9M1981.4 257.1V264.5M1982.0 256.9V275.0M1982.6 268.8V290.6M1983.2 279.4V301.3M1983.8 288.9V305.6M1986.1 267.6V277.4M1987.3 268.8V269.9M1987.9 265.6V273.0M1989.6 268.9V272.2M1990.8 267.3V268.9M1995.4 258.0V259.8M1996.0 255.5V266.7M1996.6 261.5V277.0M1997.2 271.8V274.3M1997.8 269.7V278.0M1998.4 273.2V285.2M1998.9 276.8V282.3M1999.5 276.6V284.9M2000.7 281.1V286.7M2001.3 284.4V289.4M2004.2 275.0V277.3M2005.9 264.7V273.5M2007.7 260.0V270.4M2008.9 256.8V267.1M2010.6 260.2V267.6M2013.5 254.3V258.8M2015.3 249.0V260.6M2016.5 257.8V263.8M2017.6 256.1V264.8M2018.8 256.5V269.0M2020.0 261.6V266.1M2020.5 263.2V270.9M2021.1 262.9V268.7M2021.7 267.2V271.8M2022.3 261.7V273.8M2023.5 258.4V264.0M2025.2 245.0V257.2M2027.0 247.1V254.6M2028.7 247.2V254.1M2031.6 243.2V249.2M2033.4 240.1V245.0M2035.1 230.6V243.2M2035.7 237.7V246.2M2036.3 241.4V248.7M2038.6 224.9V227.0M2041.6 200.5V207.0M2042.1 199.3V204.6M2043.9 188.9V197.2M2045.1 187.1V196.8M2049.1 184.4V187.4M2051.5 179.2V185.3M2052.6 179.5V191.7M2053.8 183.9V185.6M2055.0 181.0V189.0M2056.1 177.5V182.7M2057.3 175.8V178.7M2059.1 167.9V181.8M2060.8 169.3V178.8M2062.0 165.0V179.3M2062.6 174.9V186.0M2063.1 178.2V190.5M2063.7 183.5V191.9M2064.3 184.6V198.3M2064.9 189.2V197.4M2066.1 188.4V193.6M2067.2 187.1V191.3M2068.4 184.5V187.8M2069.0 186.1V189.4M2070.2 186.0V187.0M2070.7 185.6V188.7M2071.9 184.1V189.0M2073.7 180.5V190.8M2074.2 183.7V191.8M2075.4 181.9V196.3M2076.0 191.3V194.8M2076.6 187.5V197.4M2077.2 195.2V209.8M2080.7 177.5V180.4M2081.8 173.0V178.4M2084.2 169.2V178.7M2084.7 175.5V181.6M2086.5 176.2V179.1M2087.1 178.9V181.8M2088.2 177.7V186.0M2089.4 176.2V181.5M2090.6 178.4V183.2M2091.2 181.7V185.1M2092.3 181.0V186.8M2093.5 182.2V186.0M2094.1 184.6V186.6M2094.7 186.3V188.5M2095.8 183.7V190.1M2097.0 184.0V188.5M2097.6 184.8V189.0M2098.2 187.5V189.7M2099.3 185.9V191.8M2099.9 183.5V191.8M2100.5 191.3V192.5M2101.1 188.7V193.5M2101.7 191.6V201.7M2102.8 192.0V201.8M2103.4 195.1V200.1M2105.2 193.9V205.8M2105.8 198.8V206.8M2106.3 199.2V213.8M2106.9 209.5V222.1M2107.5 208.8V215.8M2108.1 210.3V226.0M2109.3 218.8V221.5M2109.8 219.8V227.1M2111.0 216.4V221.2M2113.3 209.5V212.6M2114.5 209.2V216.8M2116.3 206.2V211.8M2117.4 207.4V211.8M2118.6 204.7V210.7M2119.8 200.2V206.1M2120.4 197.4V211.1M2121.5 204.0V215.4M2122.1 202.4V215.2M2123.3 204.3V223.9M2123.9 205.0V217.2M2124.4 216.5V222.9M2125.0 213.1V229.0M2125.6 221.8V231.4M2128.5 208.8V212.9M2129.7 202.7V216.5M2130.3 209.6V213.6M2138.4 186.3V197.9M2139.6 187.9V194.5M2140.8 184.5V194.3M2143.1 181.8V190.1M2145.4 170.2V186.0M2146.6 170.9V181.6M2149.0 167.4V173.9M2150.7 160.1V170.9M2152.5 163.1V169.5M2153.0 164.0V167.4M2153.6 164.2V168.6M2154.2 166.7V171.1M2155.4 166.9V171.3M2156.0 169.4V173.8M2157.7 167.5V171.0M2158.9 168.8V175.3M2160.0 169.5V173.5M2161.2 170.2V174.5M2161.8 169.0V174.4M2162.4 172.7V175.6M2163.5 172.3V175.1M2164.1 171.5V179.3M2166.5 173.5V177.7M2167.6 174.5V178.4M2168.2 176.9V180.8M2169.4 172.8V180.6M2170.0 177.7V181.1M2171.1 174.3V180.2M2172.9 171.2V176.3M2174.6 167.8V174.6M2177.0 168.4V174.7M2177.6 170.1V172.1M2179.9 162.8V170.7M2182.2 153.7V161.6M2184.0 152.2V153.6M2185.1 150.1V153.6M2185.7 152.5V154.2M2186.9 150.8V155.1M2188.1 153.9V154.9M2189.8 151.1V156.5M2190.4 151.3V156.5M2192.7 152.6V158.7M2193.9 151.0V160.0M2195.1 156.0V159.0M2195.6 156.4V163.0M2196.8 155.5V163.3M2198.6 155.7V158.8M2199.7 145.3V153.2M2201.5 148.5V150.5M2202.1 139.9V153.1M2202.7 152.4V159.2M2203.8 144.3V160.0M2204.4 151.6V160.9M2206.2 156.5V162.2M2207.3 158.3V160.1M2207.9 158.1V168.6M2209.7 162.1V170.7M2211.4 161.9V167.5M2212.6 164.7V167.3M2218.4 159.3V163.9M2222.5 151.4V156.9M2223.1 152.6V161.8M2224.2 155.9V164.8M2226.0 156.6V169.5M2227.2 158.3V164.1M2228.9 157.7V159.6M2231.3 146.8V150.8M2232.4 142.5V156.0M2234.2 144.8V156.1M2234.8 148.9V160.2M2235.9 146.5V168.1M2236.5 156.5V168.5M2237.7 157.4V169.8M2238.8 160.1V173.6M2240.0 162.2V169.0M2240.6 166.9V171.6M2244.7 157.1V164.2M2245.3 159.3V162.0M2245.8 159.9V164.3M2246.4 161.5V172.3M2247.0 156.8V169.4M2247.6 167.8V181.2M2248.8 172.7V175.6" stroke="#bf4f5c" stroke-width="1.0" stroke-linecap="butt"/>
<polyline points="85.0,335.0 89.0,329.0 95.0,327.0 103.0,330.0 112.0,332.0 116.0,340.0 116.4,352.3 118.8,371.1 121.1,385.2 127.0,387.5 134.1,386.4 141.1,396.9 148.2,395.8 152.9,391.1 159.9,401.6 169.3,407.5 178.8,409.9 184.6,413.4 188.2,425.2 192.9,436.9 204.6,444.0 209.3,453.4 216.4,454.5 228.1,456.9 235.2,467.5 239.9,479.2 245.8,482.8 249.3,493.3 254.0,500.4 258.7,495.7 263.4,499.2 270.5,491.0 279.9,485.1 286.9,482.8 288.1,485.1 294.0,476.9 305.7,455.7 312.8,442.8 319.8,435.7 322.2,434.6 336.3,416.9 345.7,411.0 357.5,402.8 365.7,418.1 368.0,432.2 371.6,436.9 378.6,433.4 392.7,441.6 404.5,455.7 409.2,465.1 413.9,479.2 422.5,477.0 427.5,473.2 432.4,469.5 437.4,477.0 442.4,487.0 447.4,492.0 449.9,506.9 453.7,516.9 458.6,524.4 461.1,539.3 464.9,546.8 472.4,556.8 477.3,559.3 482.3,561.8 486.1,564.3 488.6,579.3 489.8,599.2 491.1,614.9 494.8,639.9 499.8,654.9 504.8,667.3 509.8,679.8 514.8,687.3 519.8,697.3 527.2,709.7 534.7,719.7 539.7,725.9 545.9,732.2 548.4,744.7 549.7,757.1 554.7,767.1 560.9,774.6 564.7,784.6 567.1,792.0 572.1,799.5 579.6,804.5 582.1,807.0 587.1,804.5 592.1,802.0 595.8,799.5 598.3,809.5 599.6,809.5 604.6,804.5 609.6,799.5 614.5,794.5 624.5,774.6 634.5,749.6 639.5,732.2 644.5,714.7 649.5,699.8 654.4,687.3 656.9,682.3 659.4,677.3 664.4,652.4 669.4,627.4 674.4,602.5 679.4,579.3 684.4,566.8 689.4,549.3 696.9,524.4 704.3,504.4 711.8,489.5 719.3,482.0 724.3,477.0 726.8,473.2 734.3,467.0 739.3,462.0 752.5,449.6 757.5,444.6 762.4,437.1 764.9,435.8 767.4,439.6 772.4,444.6 777.4,447.1 782.4,449.6 787.4,452.0 789.9,454.5 794.9,450.8 798.6,459.5 799.9,460.8 804.9,457.0 809.8,452.0 817.3,449.6 822.3,448.3 829.8,445.8 834.8,444.6 839.8,442.1 844.8,444.6 849.8,452.0 857.2,459.5 862.2,457.0 867.2,459.5 869.7,467.0 874.7,472.0 879.7,475.7 884.7,478.2 889.7,482.0 893.4,489.5 895.9,499.4 899.6,504.4 904.6,504.4 909.6,511.9 912.1,516.9 912.9,541.8 917.1,543.1 922.1,544.3 929.6,540.6 934.6,539.3 935.8,549.3 942.0,546.8 949.5,539.3 954.5,534.4 959.5,526.9 964.5,523.1 969.5,519.4 974.5,515.7 979.5,511.9 982.0,516.9 986.9,509.4 991.9,499.4 999.4,484.5 1004.4,472.0 1009.4,459.5 1014.4,449.6 1019.4,443.3 1024.4,440.8 1026.9,449.6 1031.8,447.1 1036.8,445.8 1044.3,448.3 1046.8,460.8 1051.8,457.0 1059.3,454.5 1064.3,452.0 1069.3,445.8 1085.0,435.7 1094.9,432.0 1102.4,428.2 1109.9,423.2 1117.4,419.5 1122.4,417.0 1124.9,414.5 1129.9,419.5 1134.9,415.8 1142.3,412.0 1147.3,413.3 1154.8,410.8 1162.3,409.5 1169.8,405.8 1173.5,404.5 1177.3,407.0 1182.2,409.5 1184.7,419.5 1192.2,429.5 1197.2,437.0 1202.2,442.0 1205.9,444.4 1207.2,464.4 1212.2,479.4 1214.7,499.3 1219.7,519.3 1224.7,531.8 1229.6,534.2 1234.6,539.2 1242.1,547.5 1247.1,555.0 1254.6,560.0 1260.8,564.9 1267.1,562.4 1274.5,557.5 1282.0,550.0 1289.5,545.0 1297.0,536.7 1302.0,531.8 1307.0,519.3 1314.4,499.3 1321.9,476.9 1326.9,466.9 1331.9,461.9 1339.4,451.9 1346.9,442.0 1354.4,434.5 1364.3,422.0 1371.8,412.0 1379.3,402.0 1384.3,398.3 1389.3,399.6 1394.3,402.0 1396.8,407.0 1401.8,410.8 1412.5,413.1 1420.0,415.6 1427.4,414.4 1432.4,414.4 1439.9,411.9 1444.9,410.6 1449.9,411.9 1459.9,410.6 1467.3,410.6 1472.3,411.9 1477.3,408.1 1484.8,404.4 1492.3,396.9 1494.8,396.9 1499.8,391.9 1502.3,393.2 1504.8,399.4 1508.5,405.7 1514.7,408.1 1522.2,406.9 1524.7,409.4 1527.2,414.4 1534.7,418.1 1539.7,416.9 1544.7,415.6 1547.2,430.6 1549.7,424.4 1557.1,421.9 1564.6,416.9 1574.6,410.6 1584.6,408.1 1594.6,401.9 1602.0,396.9 1610.8,393.2 1614.5,399.4 1619.5,401.9 1624.5,400.7 1632.0,396.9 1639.5,391.9 1646.9,389.4 1651.9,388.2 1659.4,384.4 1666.9,379.5 1674.4,375.7 1676.9,379.5 1684.4,384.4 1689.3,385.7 1695.6,380.7 1699.3,384.4 1703.1,383.2 1709.3,372.0 1716.8,362.0 1724.3,355.8 1729.3,352.0 1740.0,345.0 1745.0,343.3 1754.9,339.5 1762.4,335.8 1769.9,327.1 1777.4,322.1 1784.9,317.1 1794.9,309.6 1799.8,305.9 1807.3,304.6 1813.6,303.4 1817.3,308.3 1822.3,310.8 1827.3,309.6 1832.3,307.1 1837.3,303.4 1839.8,304.6 1844.7,309.6 1849.7,309.6 1854.7,310.8 1859.7,314.6 1864.7,322.1 1869.7,337.0 1872.2,347.0 1879.7,354.5 1884.7,359.5 1889.6,369.5 1894.6,381.9 1899.6,394.4 1902.1,399.4 1904.6,409.4 1909.6,414.4 1914.6,415.6 1919.6,416.9 1927.1,415.6 1934.5,411.9 1942.0,408.1 1949.5,405.6 1957.0,401.9 1964.5,398.1 1969.5,395.7 1974.4,394.4 1979.4,390.7 1981.9,389.4 1986.9,376.9 1991.9,362.0 1996.9,347.0 2001.9,329.6 2006.9,319.6 2011.9,322.1 2016.9,322.1 2019.3,320.8 2021.8,330.8 2029.3,332.0 2034.3,330.8 2039.3,334.5 2044.3,352.0 2046.8,362.0 2051.8,355.7 2056.8,362.0 2059.3,355.7 2061.8,364.5 2064.2,369.5 2072.2,372.0 2077.1,374.4 2082.1,379.4 2089.6,379.4 2097.1,376.9 2102.1,376.9 2105.8,379.4 2109.6,379.4 2114.6,372.0 2119.6,364.5 2124.5,360.7 2128.3,360.7 2132.0,354.5 2137.0,344.5 2142.0,332.0 2147.0,327.1 2152.0,319.6 2157.0,312.1 2164.4,304.6 2169.4,300.9 2174.4,299.6 2179.4,298.4 2181.9,302.1 2184.4,314.6 2189.4,318.3 2196.9,319.6 2204.4,322.1 2209.3,327.1 2214.3,327.1 2219.3,324.6 2224.3,324.6 2228.1,323.3 2231.8,327.1 2235.5,324.6 2236.8,329.6 2241.8,330.8 2244.3,332.0 2246.8,337.0 2249.3,343.3" stroke="#7e0a82" stroke-width="2.5"/>
<polyline points="85.0,1198.0 86.2,1195.5 90.0,1193.0 95.0,1189.3 104.9,1184.3 109.9,1179.3 112.4,1166.9 119.9,1164.4 123.7,1154.4 127.4,1129.4 129.9,1097.0 133.6,1082.0 138.6,1067.1 143.6,1062.1 146.1,1039.6 148.6,1024.7 152.3,1017.2 156.1,1013.4 159.8,1007.2 162.3,1009.7 164.8,1011.0 169.8,1007.2 172.3,994.7 177.3,989.8 179.8,987.3 184.8,979.8 189.8,974.8 192.2,977.3 194.7,962.3 199.7,954.8 204.7,952.3 212.2,948.6 217.2,944.9 224.7,947.3 232.2,948.6 235.9,941.1 239.6,946.1 244.6,918.7 247.1,922.4 249.6,926.1 254.6,924.9 262.1,927.4 269.6,924.9 279.6,919.9 287.0,914.9 299.5,909.9 304.5,906.2 309.5,904.9 317.0,898.7 324.4,897.5 331.9,897.5 341.9,896.2 349.4,895.0 356.9,893.7 361.9,896.2 366.9,900.0 370.6,898.7 374.3,892.5 379.3,890.0 389.3,891.2 396.8,891.2 404.3,890.0 405.5,885.0 409.3,887.5 413.0,897.5 414.2,904.9 417.5,906.8 425.0,909.3 428.7,906.8 430.0,901.8 432.4,901.8 434.9,909.3 439.9,914.3 447.4,921.8 452.4,929.2 454.9,935.0 458.6,940.0 459.9,950.0 462.4,957.4 469.9,961.2 477.3,964.9 483.6,971.2 486.1,984.9 487.3,999.8 488.6,1017.3 489.8,1029.8 491.1,1044.7 493.6,1029.8 497.3,1034.8 501.0,1042.2 509.8,1047.2 514.8,1049.7 519.8,1057.2 522.2,1064.7 529.7,1072.2 534.7,1079.7 539.7,1087.1 547.2,1089.6 549.7,1104.6 552.2,1112.1 559.7,1124.6 564.7,1132.0 569.6,1139.5 577.1,1149.5 582.1,1162.0 589.6,1168.2 595.8,1172.0 598.3,1179.4 600.8,1185.7 609.6,1186.9 622.0,1184.4 632.0,1181.9 635.7,1174.4 640.7,1174.4 644.5,1178.2 654.4,1180.7 658.2,1186.9 671.9,1184.4 684.4,1181.9 691.9,1179.4 700.6,1179.4 701.8,1164.5 709.3,1163.2 714.3,1167.0 719.3,1173.2 731.8,1173.2 741.8,1172.0 750.0,1170.7 752.5,1168.2 760.0,1168.2 771.2,1168.2 772.4,1176.9 773.7,1216.9 782.4,1214.4 792.4,1210.6 797.4,1209.4 798.6,1221.8 802.4,1220.6 809.8,1216.9 817.3,1216.9 822.3,1219.3 824.8,1223.1 834.8,1221.8 839.8,1219.3 844.8,1215.6 849.8,1216.9 854.7,1213.1 862.2,1209.4 867.2,1209.4 869.7,1211.9 879.7,1209.4 884.7,1206.9 885.9,1203.1 889.7,1199.4 894.7,1200.6 899.6,1200.6 904.6,1198.1 909.6,1196.9 912.1,1199.4 912.6,1215.6 914.6,1194.4 918.3,1179.4 924.6,1172.0 929.6,1163.2 934.6,1157.0 935.8,1165.7 942.0,1159.5 949.5,1154.5 954.5,1152.0 957.0,1147.0 958.3,1153.2 962.0,1147.0 967.0,1142.0 974.5,1132.0 982.0,1123.3 986.9,1112.1 991.9,1094.6 996.9,1082.2 1001.9,1072.2 1003.2,1059.7 1006.9,1047.2 1011.9,1034.8 1016.9,1027.3 1024.4,1018.6 1026.9,1014.8 1034.3,1007.3 1039.3,999.8 1043.1,997.3 1049.3,996.1 1056.8,992.4 1064.3,988.6 1069.3,983.6 1075.0,975.9 1081.2,974.7 1083.7,968.5 1090.0,966.0 1094.9,963.5 1102.4,959.7 1109.9,957.7 1119.9,956.5 1123.6,956.2 1129.9,959.7 1134.9,957.2 1139.8,953.5 1143.6,946.8 1152.3,947.3 1164.8,947.8 1174.8,949.0 1177.3,946.8 1182.2,947.3 1183.5,954.7 1189.7,958.5 1194.7,962.2 1197.2,964.7 1198.5,952.2 1199.7,877.4 1202.2,876.2 1205.9,879.9 1209.7,883.7 1214.7,888.6 1218.4,893.6 1220.9,903.6 1223.4,908.6 1224.7,901.1 1229.6,900.4 1232.1,906.1 1239.6,912.3 1244.6,913.6 1248.3,916.1 1249.6,919.8 1252.1,916.1 1257.1,918.6 1264.6,924.8 1272.0,932.3 1277.0,937.3 1282.0,941.0 1284.5,947.3 1287.0,943.5 1294.5,944.8 1302.0,946.0 1305.7,947.8 1307.0,939.8 1312.0,939.8 1316.9,936.0 1321.9,933.5 1326.9,929.8 1329.4,928.6 1331.9,931.0 1334.4,927.3 1336.9,926.8 1338.1,941.0 1341.9,938.5 1344.4,936.0 1349.4,937.3 1355.6,939.8 1359.3,939.8 1360.6,926.1 1366.8,926.8 1371.8,927.8 1373.1,935.5 1379.3,936.0 1384.3,938.5 1389.3,939.8 1394.3,942.3 1396.8,946.0 1401.8,947.8 1406.2,947.2 1407.5,942.2 1417.5,942.2 1427.4,943.4 1437.4,944.2 1439.9,941.7 1447.4,942.7 1448.6,952.7 1459.9,951.7 1462.4,949.7 1467.3,949.7 1469.8,952.7 1472.3,944.7 1476.1,940.9 1479.8,944.7 1487.3,945.9 1492.3,947.7 1494.8,950.9 1499.8,948.4 1506.0,944.7 1507.3,947.9 1514.7,946.7 1522.2,944.7 1526.0,945.2 1527.2,949.7 1529.7,947.2 1537.2,947.2 1544.7,943.4 1548.4,945.9 1554.7,943.4 1562.1,939.7 1569.6,935.9 1574.6,934.2 1582.1,932.2 1589.6,931.0 1597.1,930.2 1598.3,934.7 1604.5,932.2 1607.0,931.0 1608.3,922.2 1612.0,924.7 1617.0,926.0 1619.5,928.5 1624.5,924.7 1632.0,921.0 1632.0,913.5 1637.0,904.8 1639.5,899.8 1640.7,884.8 1646.9,878.6 1649.4,869.8 1651.9,859.9 1654.4,854.9 1661.9,849.9 1664.4,844.9 1666.9,832.4 1669.4,829.9 1671.9,822.4 1674.4,810.0 1678.1,799.3 1679.4,794.3 1684.4,781.8 1686.9,774.3 1691.8,769.3 1694.3,764.3 1699.3,759.3 1701.8,754.4 1704.3,751.9 1709.3,744.4 1714.3,736.9 1716.8,729.4 1719.3,721.9 1724.3,714.4 1729.3,710.7 1734.2,708.2 1747.5,704.5 1754.9,703.2 1762.4,703.2 1764.9,689.5 1772.4,688.3 1779.9,685.8 1789.9,683.3 1799.8,682.5 1809.8,683.3 1814.8,675.8 1824.8,669.6 1834.8,667.1 1839.8,665.8 1844.7,664.6 1851.0,664.6 1854.7,669.6 1862.2,669.6 1864.7,669.6 1867.2,679.5 1870.9,688.3 1873.4,687.0 1874.7,679.5 1879.7,680.8 1887.1,684.5 1890.9,689.5 1894.6,697.0 1899.6,704.5 1903.4,712.0 1904.6,721.9 1909.6,726.9 1914.6,729.4 1918.3,731.9 1920.8,724.4 1929.6,724.4 1934.5,720.7 1942.0,720.7 1942.5,736.9 1949.5,736.9 1954.5,730.7 1957.0,730.7 1964.5,734.4 1972.0,735.7 1976.9,738.1 1981.9,743.1 1989.4,744.4 1999.4,745.6 2009.4,748.1 2021.8,750.6 2026.8,751.9 2033.1,751.9 2034.3,739.4 2039.3,738.1 2043.0,730.7 2046.8,733.2 2054.3,738.1 2064.2,744.4 2070.0,751.9 2073.9,752.1 2079.6,753.5 2085.3,759.2 2091.0,763.5 2099.5,766.4 2108.1,764.9 2119.5,763.5 2128.0,766.4 2133.7,767.8 2139.4,773.5 2145.1,779.2 2150.8,782.0 2156.5,780.6 2162.2,777.8 2170.8,776.3 2176.5,780.6 2177.9,787.7 2182.2,793.4 2190.7,802.0 2196.4,806.3 2202.1,809.1 2207.8,812.0 2216.4,816.2 2224.9,820.5 2230.6,823.4 2233.5,827.6 2239.2,834.8 2244.9,841.9 2249.2,844.7" stroke="#12b7ef" stroke-width="3.5"/>
</g>
</svg>
<div class="t" style="left:74.00px;top:31.42px;font-size:15.10px;color:#333333;font-weight:normal;transform:translateX(-100%);">86.00%</div>
<div class="t" style="left:74.00px;top:75.25px;font-size:15.10px;color:#333333;font-weight:normal;transform:translateX(-100%);">84.00%</div>
<div class="t" style="left:74.00px;top:119.07px;font-size:15.10px;color:#333333;font-weight:normal;transform:translateX(-100%);">82.00%</div>
<div class="t" style="left:74.00px;top:162.90px;font-size:15.10px;color:#333333;font-weight:normal;transform:translateX(-100%);">80.00%</div>
<div class="t" style="left:74.00px;top:206.73px;font-size:15.10px;color:#333333;font-weight:normal;transform:translateX(-100%);">78.00%</div>
<div class="t" style="left:74.00px;top:250.56px;font-size:15.10px;color:#333333;font-weight:normal;transform:translateX(-100%);">76.00%</div>
<div class="t" style="left:74.00px;top:294.39px;font-size:15.10px;color:#333333;font-weight:normal;transform:translateX(-100%);">74.00%</div>
<div class="t" style="left:74.00px;top:338.21px;font-size:15.10px;color:#333333;font-weight:normal;transform:translateX(-100%);">72.00%</div>
<div class="t" style="left:74.00px;top:382.04px;font-size:15.10px;color:#333333;font-weight:normal;transform:translateX(-100%);">70.00%</div>
<div class="t" style="left:74.00px;top:425.87px;font-size:15.10px;color:#333333;font-weight:normal;transform:translateX(-100%);">68.00%</div>
<div class="t" style="left:74.00px;top:469.70px;font-size:15.10px;color:#333333;font-weight:normal;transform:translateX(-100%);">66.00%</div>
<div class="t" style="left:74.00px;top:513.53px;font-size:15.10px;color:#333333;font-weight:normal;transform:translateX(-100%);">64.00%</div>
<div class="t" style="left:74.00px;top:557.35px;font-size:15.10px;color:#333333;font-weight:normal;transform:translateX(-100%);">62.00%</div>
<div class="t" style="left:74.00px;top:601.18px;font-size:15.10px;color:#333333;font-weight:normal;transform:translateX(-100%);">60.00%</div>
<div class="t" style="left:74.00px;top:645.01px;font-size:15.10px;color:#333333;font-weight:normal;transform:translateX(-100%);">58.00%</div>
<div class="t" style="left:74.00px;top:688.84px;font-size:15.10px;color:#333333;font-weight:normal;transform:translateX(-100%);">56.00%</div>
<div class="t" style="left:74.00px;top:732.67px;font-size:15.10px;color:#333333;font-weight:normal;transform:translateX(-100%);">54.00%</div>
<div class="t" style="left:74.00px;top:776.49px;font-size:15.10px;color:#333333;font-weight:normal;transform:translateX(-100%);">52.00%</div>
<div class="t" style="left:74.00px;top:820.32px;font-size:15.10px;color:#333333;font-weight:normal;transform:translateX(-100%);">50.00%</div>
<div class="t" style="left:74.00px;top:864.15px;font-size:15.10px;color:#333333;font-weight:normal;transform:translateX(-100%);">48.00%</div>
<div class="t" style="left:74.00px;top:907.98px;font-size:15.10px;color:#333333;font-weight:normal;transform:translateX(-100%);">46.00%</div>
<div class="t" style="left:74.00px;top:951.81px;font-size:15.10px;color:#333333;font-weight:normal;transform:translateX(-100%);">44.00%</div>
<div class="t" style="left:74.00px;top:995.63px;font-size:15.10px;color:#333333;font-weight:normal;transform:translateX(-100%);">42.00%</div>
<div class="t" style="left:74.00px;top:1039.46px;font-size:15.10px;color:#333333;font-weight:normal;transform:translateX(-100%);">40.00%</div>
<div class="t" style="left:74.00px;top:1083.29px;font-size:15.10px;color:#333333;font-weight:normal;transform:translateX(-100%);">38.00%</div>
<div class="t" style="left:74.00px;top:1127.12px;font-size:15.10px;color:#333333;font-weight:normal;transform:translateX(-100%);">36.00%</div>
<div class="t" style="left:74.00px;top:1170.95px;font-size:15.10px;color:#333333;font-weight:normal;transform:translateX(-100%);">34.00%</div>
<div class="t" style="left:74.00px;top:1214.77px;font-size:15.10px;color:#333333;font-weight:normal;transform:translateX(-100%);">32.00%</div>
<div class="t" style="left:74.00px;top:1258.60px;font-size:15.10px;color:#333333;font-weight:normal;transform:translateX(-100%);">30.00%</div>
<div class="t" style="left:74.00px;top:1302.43px;font-size:15.10px;color:#333333;font-weight:normal;transform:translateX(-100%);">28.00%</div>
<div class="abs" style="left:2440px;top:12px;width:107px;height:1317.5px;overflow:hidden;">
<div class="t" style="left:18.00px;top:-7.39px;font-size:15.50px;color:#333333;font-weight:normal;">270,000.00</div>
<div class="t" style="left:18.00px;top:35.48px;font-size:15.50px;color:#333333;font-weight:normal;">210,000.00</div>
<div class="t" style="left:18.00px;top:71.53px;font-size:15.50px;color:#333333;font-weight:normal;">170,000.00</div>
<div class="t" style="left:18.00px;top:110.86px;font-size:15.50px;color:#333333;font-weight:normal;">135,000.00</div>
<div class="t" style="left:18.00px;top:150.51px;font-size:15.50px;color:#333333;font-weight:normal;">107,000.00</div>
<div class="t" style="left:18.00px;top:185.81px;font-size:15.50px;color:#333333;font-weight:normal;">87,000.00</div>
<div class="t" style="left:18.00px;top:224.13px;font-size:15.50px;color:#333333;font-weight:normal;">69,500.00</div>
<div class="t" style="left:18.00px;top:262.50px;font-size:15.50px;color:#333333;font-weight:normal;">55,500.00</div>
<div class="t" style="left:18.00px;top:304.06px;font-size:15.50px;color:#333333;font-weight:normal;">43,500.00</div>
<div class="t" style="left:18.00px;top:348.63px;font-size:15.50px;color:#333333;font-weight:normal;">33,500.00</div>
<div class="t" style="left:18.00px;top:388.61px;font-size:15.50px;color:#333333;font-weight:normal;">26,500.00</div>
<div class="t" style="left:18.00px;top:424.29px;font-size:15.50px;color:#333333;font-weight:normal;">21,500.00</div>
<div class="t" style="left:18.00px;top:459.40px;font-size:15.50px;color:#333333;font-weight:normal;">17,500.00</div>
<div class="t" style="left:18.00px;top:497.47px;font-size:15.50px;color:#333333;font-weight:normal;">14,000.00</div>
<div class="t" style="left:18.00px;top:535.54px;font-size:15.50px;color:#333333;font-weight:normal;">11,200.00</div>
<div class="t" style="left:18.00px;top:576.68px;font-size:15.50px;color:#333333;font-weight:normal;">8,800.00</div>
<div class="t" style="left:18.00px;top:614.51px;font-size:15.50px;color:#333333;font-weight:normal;">7,050.00</div>
<div class="t" style="left:18.00px;top:652.28px;font-size:15.50px;color:#333333;font-weight:normal;">5,650.00</div>
<div class="t" style="left:18.00px;top:693.01px;font-size:15.50px;color:#333333;font-weight:normal;">4,450.00</div>
<div class="t" style="left:18.00px;top:736.43px;font-size:15.50px;color:#333333;font-weight:normal;">3,450.00</div>
<div class="t" style="left:18.00px;top:775.12px;font-size:15.50px;color:#333333;font-weight:normal;">2,750.00</div>
<div class="t" style="left:18.00px;top:817.11px;font-size:15.50px;color:#333333;font-weight:normal;">2,150.00</div>
<div class="t" style="left:18.00px;top:852.23px;font-size:15.50px;color:#333333;font-weight:normal;">1,750.00</div>
<div class="t" style="left:18.00px;top:890.29px;font-size:15.50px;color:#333333;font-weight:normal;">1,400.00</div>
<div class="t" style="left:18.00px;top:928.36px;font-size:15.50px;color:#333333;font-weight:normal;">1,120.00</div>
<div class="t" style="left:18.00px;top:969.50px;font-size:15.50px;color:#333333;font-weight:normal;">880.00</div>
<div class="t" style="left:18.00px;top:1007.33px;font-size:15.50px;color:#333333;font-weight:normal;">705.00</div>
<div class="t" style="left:18.00px;top:1045.10px;font-size:15.50px;color:#333333;font-weight:normal;">565.00</div>
<div class="t" style="left:18.00px;top:1085.83px;font-size:15.50px;color:#333333;font-weight:normal;">445.00</div>
<div class="t" style="left:18.00px;top:1124.38px;font-size:15.50px;color:#333333;font-weight:normal;">355.00</div>
<div class="t" style="left:18.00px;top:1161.84px;font-size:15.50px;color:#333333;font-weight:normal;">285.00</div>
<div class="t" style="left:18.00px;top:1198.42px;font-size:15.50px;color:#333333;font-weight:normal;">230.00</div>
<div class="t" style="left:18.00px;top:1234.65px;font-size:15.50px;color:#333333;font-weight:normal;">186.00</div>
<div class="t" style="left:18.00px;top:1271.34px;font-size:15.50px;color:#333333;font-weight:normal;">150.00</div>
<div class="t" style="left:18.00px;top:1306.59px;font-size:15.50px;color:#333333;font-weight:normal;">122.00</div>
</div>
<div class="t" style="left:152.50px;top:1338.46px;font-size:15.40px;color:#222222;font-weight:bold;transform:translateX(-50%);letter-spacing:0.55px;">2016</div>
<div class="t" style="left:258.52px;top:1340.33px;font-size:14.50px;color:#333333;font-weight:normal;transform:translateX(-50%);">Jul</div>
<div class="t" style="left:365.55px;top:1338.46px;font-size:15.40px;color:#222222;font-weight:bold;transform:translateX(-50%);letter-spacing:0.55px;">2017</div>
<div class="t" style="left:471.58px;top:1340.33px;font-size:14.50px;color:#333333;font-weight:normal;transform:translateX(-50%);">Jul</div>
<div class="t" style="left:578.60px;top:1338.46px;font-size:15.40px;color:#222222;font-weight:bold;transform:translateX(-50%);letter-spacing:0.55px;">2018</div>
<div class="t" style="left:684.62px;top:1340.33px;font-size:14.50px;color:#333333;font-weight:normal;transform:translateX(-50%);">Jul</div>
<div class="t" style="left:791.65px;top:1338.46px;font-size:15.40px;color:#222222;font-weight:bold;transform:translateX(-50%);letter-spacing:0.55px;">2019</div>
<div class="t" style="left:897.68px;top:1340.33px;font-size:14.50px;color:#333333;font-weight:normal;transform:translateX(-50%);">Jul</div>
<div class="t" style="left:1004.70px;top:1338.46px;font-size:15.40px;color:#222222;font-weight:bold;transform:translateX(-50%);letter-spacing:0.55px;">2020</div>
<div class="t" style="left:1110.72px;top:1340.33px;font-size:14.50px;color:#333333;font-weight:normal;transform:translateX(-50%);">Jul</div>
<div class="t" style="left:1217.75px;top:1338.46px;font-size:15.40px;color:#222222;font-weight:bold;transform:translateX(-50%);letter-spacing:0.55px;">2021</div>
<div class="t" style="left:1323.78px;top:1340.33px;font-size:14.50px;color:#333333;font-weight:normal;transform:translateX(-50%);">Jul</div>
<div class="t" style="left:1430.80px;top:1338.46px;font-size:15.40px;color:#222222;font-weight:bold;transform:translateX(-50%);letter-spacing:0.55px;">2022</div>
<div class="t" style="left:1536.83px;top:1340.33px;font-size:14.50px;color:#333333;font-weight:normal;transform:translateX(-50%);">Jul</div>
<div class="t" style="left:1643.85px;top:1338.46px;font-size:15.40px;color:#222222;font-weight:bold;transform:translateX(-50%);letter-spacing:0.55px;">2023</div>
<div class="t" style="left:1749.88px;top:1340.33px;font-size:14.50px;color:#333333;font-weight:normal;transform:translateX(-50%);">Jul</div>
<div class="t" style="left:1856.90px;top:1338.46px;font-size:15.40px;color:#222222;font-weight:bold;transform:translateX(-50%);letter-spacing:0.55px;">2024</div>
<div class="t" style="left:1962.93px;top:1340.33px;font-size:14.50px;color:#333333;font-weight:normal;transform:translateX(-50%);">Jul</div>
<div class="t" style="left:2069.95px;top:1338.46px;font-size:15.40px;color:#222222;font-weight:bold;transform:translateX(-50%);letter-spacing:0.55px;">2025</div>
<div class="t" style="left:2175.98px;top:1340.33px;font-size:14.50px;color:#333333;font-weight:normal;transform:translateX(-50%);">Jul</div>
<div class="t" style="left:2283.00px;top:1338.46px;font-size:15.40px;color:#222222;font-weight:bold;transform:translateX(-50%);letter-spacing:0.55px;">2026</div>
<div class="t" style="left:2389.03px;top:1340.33px;font-size:14.50px;color:#333333;font-weight:normal;transform:translateX(-50%);">Jul</div>
<div class="abs" style="left:37px;top:1334.5px;width:23px;height:23px;border-radius:50%;background:#f6f6f6;box-shadow:0 0 3px #f6f6f6;"></div>
<div class="t" style="left:48.50px;top:1340.16px;font-size:12.80px;color:#555555;font-weight:normal;transform:translateX(-50%);">Z</div>
<div class="abs" style="left:2487px;top:1335.5px;width:23px;height:23px;border-radius:50%;background:#f6f6f6;box-shadow:0 0 3px #f6f6f6;"></div>
<div class="t" style="left:2498.50px;top:1340.16px;font-size:12.80px;color:#555555;font-weight:normal;transform:translateX(-50%);">A</div>
<div class="abs" style="left:16px;top:308.4px;width:303.5px;height:19.5px;background:#12b9f1;border-radius:3px;"></div><div class="abs" style="left:83px;top:308.4px;width:1.6px;height:19.5px;background:#ffffff;"></div><div class="t" style="left:74.30px;top:309.96px;font-size:15.40px;color:#0d2a3a;font-weight:normal;transform:translateX(-100%);">73.24%</div><div class="t" style="left:89.00px;top:310.39px;font-size:14.90px;color:#0d2a3a;font-weight:normal;">Supply Last Active 6+ months ago</div>
<div class="abs" style="left:16px;top:333.2px;width:252px;height:19.5px;background:#820f85;border-radius:3px;"></div><div class="abs" style="left:83px;top:333.2px;width:1.6px;height:19.5px;background:#ffffff;"></div><div class="t" style="left:74.30px;top:334.76px;font-size:15.40px;color:#ffffff;font-weight:normal;transform:translateX(-100%);">72.12%</div><div class="t" style="left:89.00px;top:335.19px;font-size:14.90px;color:#ffffff;font-weight:normal;">Supply Long-term Holders</div>
<div class="abs" style="left:16px;top:579.0px;width:289.5px;height:19.5px;background:#12b9f1;border-radius:3px;"></div><div class="abs" style="left:83px;top:579.0px;width:1.6px;height:19.5px;background:#ffffff;"></div><div class="t" style="left:74.30px;top:580.56px;font-size:15.40px;color:#0d2a3a;font-weight:normal;transform:translateX(-100%);">60.91%</div><div class="t" style="left:89.00px;top:580.99px;font-size:14.90px;color:#0d2a3a;font-weight:normal;">Supply Last Active 1+ years ago</div>
<div class="abs" style="left:16px;top:835.8px;width:289.5px;height:19.5px;background:#12b9f1;border-radius:3px;"></div><div class="abs" style="left:83px;top:835.8px;width:1.6px;height:19.5px;background:#ffffff;"></div><div class="t" style="left:74.30px;top:837.36px;font-size:15.40px;color:#0d2a3a;font-weight:normal;transform:translateX(-100%);">49.19%</div><div class="t" style="left:89.00px;top:837.79px;font-size:14.90px;color:#0d2a3a;font-weight:normal;">Supply Last Active 2+ years ago</div>
<div class="abs" style="left:2381.5px;top:170.8px;width:160.5px;height:20px;background:#f23645;border-radius:3px;"></div>
<div class="abs" style="left:2447.5px;top:170.8px;width:1.4px;height:20px;background:#ffffff;"></div>
<div class="t" style="left:2386.50px;top:174.09px;font-size:13.60px;color:#ffffff;font-weight:normal;">BTCUSD</div>
<div class="t" style="left:2459.20px;top:172.65px;font-size:15.30px;color:#ffffff;font-weight:normal;">101,355.50</div>
<div class="t" style="left:93.75px;top:23.75px;font-size:13.65px;color:#131722;font-weight:normal;">BITCOIN / USD, 1D, COINBASE</div>
<div class="t" style="left:302.00px;top:23.53px;font-size:13.90px;color:#131722;font-weight:normal;">O</div>
<div class="t" style="left:313.00px;top:23.17px;font-size:14.33px;color:#f23645;font-weight:normal;">103,866.67</div>
<div class="t" style="left:394.00px;top:23.53px;font-size:13.90px;color:#131722;font-weight:normal;">H</div>
<div class="t" style="left:405.80px;top:24.10px;font-size:13.23px;color:#f23645;font-weight:normal;">104,191.19</div>
<div class="t" style="left:481.00px;top:23.53px;font-size:13.90px;color:#131722;font-weight:normal;">L</div>
<div class="t" style="left:489.00px;top:23.15px;font-size:14.35px;color:#f23645;font-weight:normal;">100,235.02</div>
<div class="t" style="left:571.00px;top:23.53px;font-size:13.90px;color:#131722;font-weight:normal;">C</div>
<div class="t" style="left:582.00px;top:23.69px;font-size:13.71px;color:#f23645;font-weight:normal;">101,355.50</div>
<div class="t" style="left:660.80px;top:22.96px;font-size:14.58px;color:#f23645;font-weight:normal;">−2,513.50 (−2.42%)</div>
<div class="t" style="left:94.00px;top:42.42px;font-size:14.62px;color:#131722;font-weight:normal;">(Capriole.com) Hodler Growth Rate BTC (0)</div>
<div class="t" style="left:387.80px;top:42.90px;font-size:14.06px;color:#2ab6e6;font-weight:normal;">49.19%</div>
<div class="t" style="left:445.50px;top:42.80px;font-size:14.18px;color:#2ab6e6;font-weight:normal;">60.91%</div>
<div class="t" style="left:502.00px;top:42.67px;font-size:14.33px;color:#2ab6e6;font-weight:normal;">73.24%</div>
<div class="t" style="left:560.00px;top:43.09px;font-size:13.83px;color:#7d1a82;font-weight:normal;">72.12%</div>
<svg class="abs" style="left:0;top:1370px" width="40" height="25" viewBox="0 1370 40 25"><path d="M11.8 1376.2H20.7V1387.5H15.7V1379.8H11.8Z" fill="#1e1e1e"/><circle cx="24.85" cy="1378.6" r="2.3" fill="#1e1e1e"/><path d="M29.9 1376.2H34.2L29.6 1387.5H25.1Z" fill="#1e1e1e"/></svg>
<div class="t" style="left:39.00px;top:1374.93px;font-size:15.20px;color:#1e1e1e;font-weight:normal;">TradingView</div>
</body></html>
